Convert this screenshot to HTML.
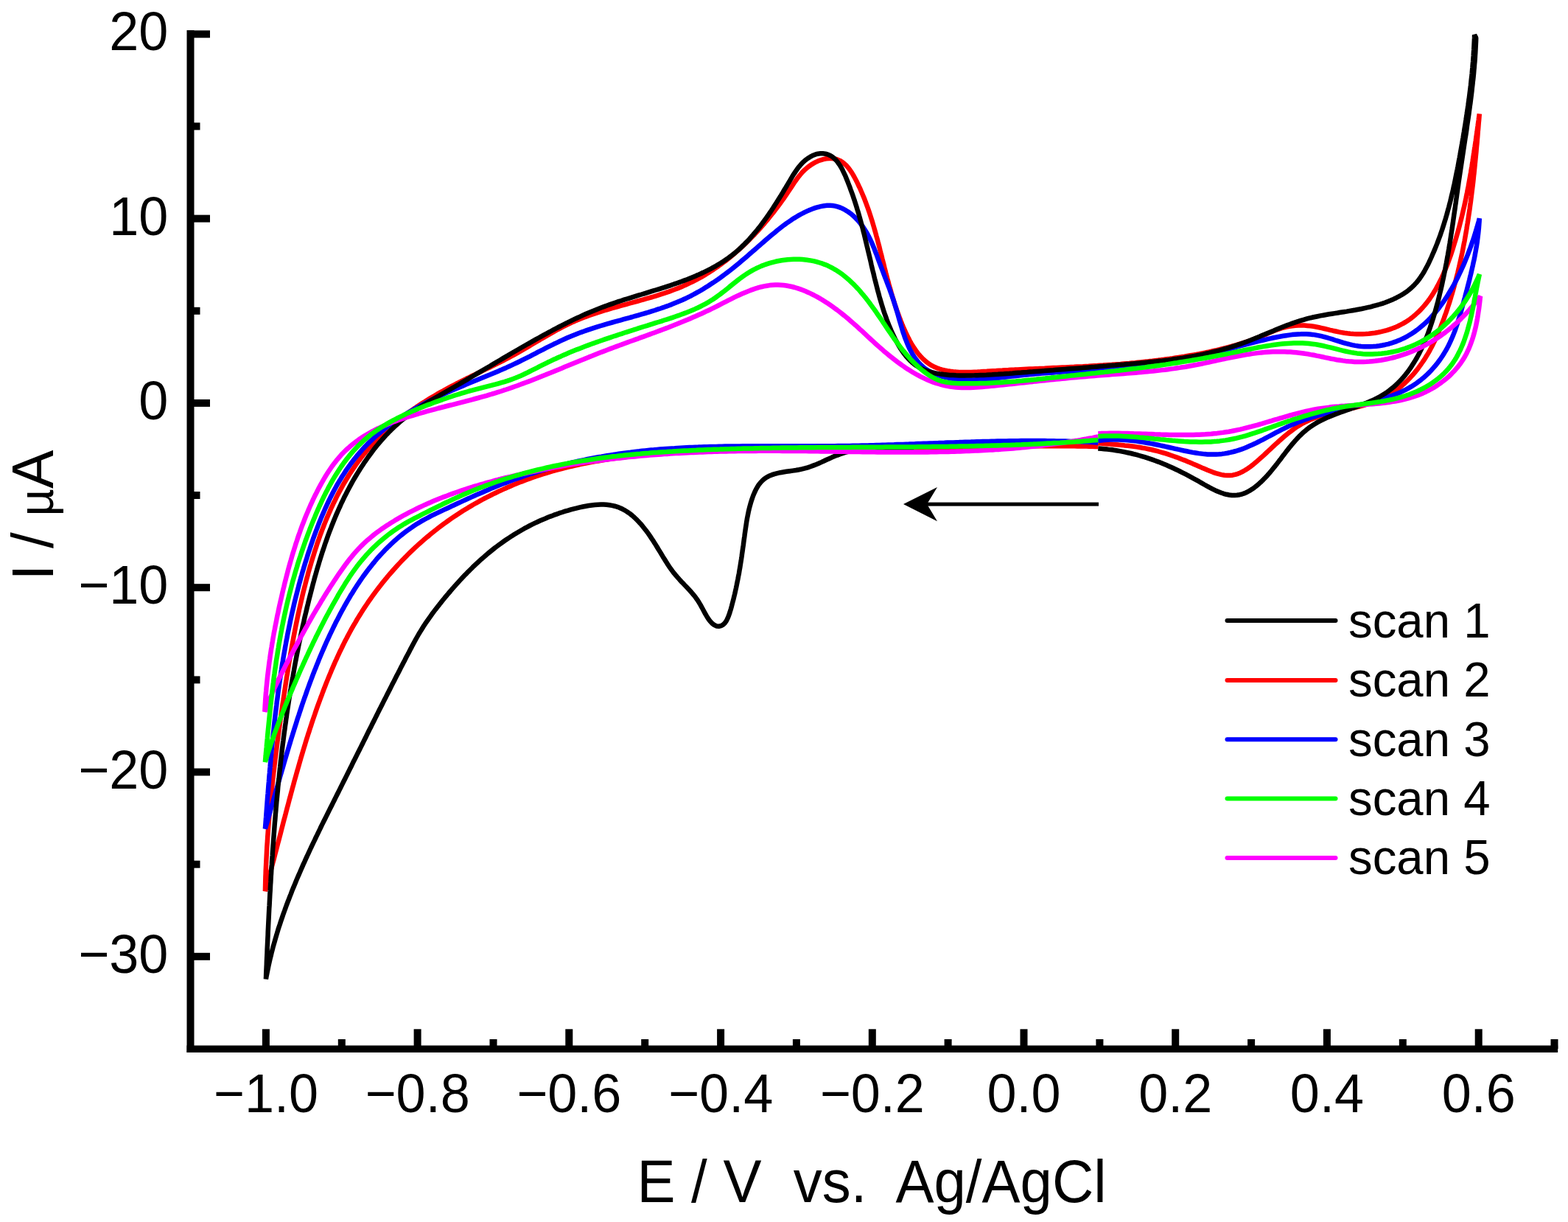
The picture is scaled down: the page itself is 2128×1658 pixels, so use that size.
<!DOCTYPE html>
<html><head><meta charset="utf-8"><title>Cyclic voltammogram</title>
<style>
html,body{margin:0;padding:0;background:#fff;}
body{width:2128px;height:1658px;overflow:hidden;}
svg{display:block;}
text{font-family:"Liberation Sans",Arial,sans-serif;fill:#000;}
.tl{font-size:72px;}
.ti{font-size:78px;}
.ty{font-size:80px;}
.lg{font-size:66px;}
.mu{font-size:66px;}
</style></head><body>
<svg xmlns="http://www.w3.org/2000/svg" width="2128" height="1658" viewBox="0 0 2128 1658">
<rect width="2128" height="1658" fill="#fff"/>
<rect x="253.5" y="41" width="10" height="1387" fill="#000"/>
<rect x="253.5" y="1418.5" width="1860.7" height="9.5" fill="#000"/>
<rect x="258" y="41.3" width="27.0" height="10" fill="#000"/>
<text transform="translate(228.4,68.3) scale(1,1.03)" text-anchor="end" class="tl">20</text>
<rect x="258" y="166.4" width="13.5" height="10" fill="#000"/>
<rect x="258" y="291.6" width="27.0" height="10" fill="#000"/>
<text transform="translate(228.4,318.6) scale(1,1.03)" text-anchor="end" class="tl">10</text>
<rect x="258" y="416.8" width="13.5" height="10" fill="#000"/>
<rect x="258" y="541.9" width="27.0" height="10" fill="#000"/>
<text transform="translate(228.4,568.9) scale(1,1.03)" text-anchor="end" class="tl">0</text>
<rect x="258" y="667.0" width="13.5" height="10" fill="#000"/>
<rect x="258" y="792.2" width="27.0" height="10" fill="#000"/>
<text transform="translate(228.4,819.2) scale(1,1.03)" text-anchor="end" class="tl">−10</text>
<rect x="258" y="917.4" width="13.5" height="10" fill="#000"/>
<rect x="258" y="1042.5" width="27.0" height="10" fill="#000"/>
<text transform="translate(228.4,1069.5) scale(1,1.03)" text-anchor="end" class="tl">−20</text>
<rect x="258" y="1167.7" width="13.5" height="10" fill="#000"/>
<rect x="258" y="1292.8" width="27.0" height="10" fill="#000"/>
<text transform="translate(228.4,1319.8) scale(1,1.03)" text-anchor="end" class="tl">−30</text>
<rect x="355.9" y="1396.3" width="10" height="26.7" fill="#000"/>
<text transform="translate(360.9,1509.3) scale(1,1.03)" text-anchor="middle" class="tl">−1.0</text>
<rect x="458.8" y="1410.0" width="10" height="13.0" fill="#000"/>
<rect x="561.6" y="1396.3" width="10" height="26.7" fill="#000"/>
<text transform="translate(566.6,1509.3) scale(1,1.03)" text-anchor="middle" class="tl">−0.8</text>
<rect x="664.5" y="1410.0" width="10" height="13.0" fill="#000"/>
<rect x="767.3" y="1396.3" width="10" height="26.7" fill="#000"/>
<text transform="translate(772.3,1509.3) scale(1,1.03)" text-anchor="middle" class="tl">−0.6</text>
<rect x="870.2" y="1410.0" width="10" height="13.0" fill="#000"/>
<rect x="973.1" y="1396.3" width="10" height="26.7" fill="#000"/>
<text transform="translate(978.1,1509.3) scale(1,1.03)" text-anchor="middle" class="tl">−0.4</text>
<rect x="1075.9" y="1410.0" width="10" height="13.0" fill="#000"/>
<rect x="1178.8" y="1396.3" width="10" height="26.7" fill="#000"/>
<text transform="translate(1183.8,1509.3) scale(1,1.03)" text-anchor="middle" class="tl">−0.2</text>
<rect x="1281.6" y="1410.0" width="10" height="13.0" fill="#000"/>
<rect x="1384.5" y="1396.3" width="10" height="26.7" fill="#000"/>
<text transform="translate(1389.5,1509.3) scale(1,1.03)" text-anchor="middle" class="tl">0.0</text>
<rect x="1487.4" y="1410.0" width="10" height="13.0" fill="#000"/>
<rect x="1590.2" y="1396.3" width="10" height="26.7" fill="#000"/>
<text transform="translate(1595.2,1509.3) scale(1,1.03)" text-anchor="middle" class="tl">0.2</text>
<rect x="1693.1" y="1410.0" width="10" height="13.0" fill="#000"/>
<rect x="1795.9" y="1396.3" width="10" height="26.7" fill="#000"/>
<text transform="translate(1800.9,1509.3) scale(1,1.03)" text-anchor="middle" class="tl">0.4</text>
<rect x="1898.8" y="1410.0" width="10" height="13.0" fill="#000"/>
<rect x="2001.7" y="1396.3" width="10" height="26.7" fill="#000"/>
<text transform="translate(2006.7,1509.3) scale(1,1.03)" text-anchor="middle" class="tl">0.6</text>
<rect x="2104.5" y="1410.0" width="10" height="13.0" fill="#000"/>
<text transform="translate(864.4,1631) scale(1,1.04)" class="ti" xml:space="preserve">E / V  vs.  Ag/AgCl</text>
<text transform="translate(71.7,787.5) rotate(-90) scale(0.98,1)" class="ty">I / <tspan class="mu">µ</tspan>A</text>
<path d="M1490.3,606.0 L1486.3,605.9 L1482.3,605.8 L1478.3,605.7 L1474.2,605.6 L1470.2,605.5 L1466.2,605.5 L1462.2,605.4 L1458.2,605.3 L1454.2,605.3 L1450.1,605.3 L1446.1,605.2 L1442.1,605.2 L1438.1,605.2 L1434.1,605.2 L1430.0,605.2 L1426.0,605.2 L1422.0,605.2 L1418.0,605.2 L1414.0,605.2 L1409.9,605.2 L1405.9,605.3 L1401.9,605.3 L1397.9,605.3 L1393.9,605.4 L1389.8,605.4 L1385.8,605.5 L1381.8,605.5 L1377.8,605.6 L1373.7,605.6 L1369.7,605.7 L1365.7,605.8 L1361.7,605.8 L1357.7,605.9 L1353.6,605.9 L1349.6,606.0 L1345.6,606.1 L1341.6,606.1 L1337.6,606.2 L1333.5,606.3 L1329.5,606.4 L1325.5,606.4 L1321.5,606.5 L1317.5,606.6 L1313.4,606.6 L1309.4,606.7 L1305.4,606.7 L1301.4,606.8 L1297.4,606.9 L1293.3,606.9 L1289.3,607.0 L1285.3,607.0 L1281.3,607.1 L1277.3,607.1 L1273.3,607.2 L1269.3,607.2 L1265.2,607.2 L1261.2,607.3 L1257.2,607.3 L1253.2,607.4 L1249.2,607.4 L1245.2,607.4 L1241.2,607.5 L1237.1,607.5 L1233.1,607.5 L1229.1,607.6 L1225.1,607.6 L1221.1,607.6 L1217.1,607.7 L1213.1,607.7 L1209.1,607.7 L1205.0,607.7 L1201.0,607.8 L1197.0,607.8 L1193.0,607.8 L1189.0,607.8 L1185.0,607.9 L1181.0,607.9 L1177.0,607.9 L1172.9,607.9 L1168.9,608.0 L1164.9,608.0 L1160.9,608.0 L1156.9,608.1 L1152.9,608.1 L1148.9,608.1 L1144.9,608.2 L1140.9,608.2 L1136.8,608.2 L1132.8,608.3 L1128.8,608.3 L1124.8,608.3 L1120.8,608.4 L1116.8,608.4 L1112.8,608.4 L1108.7,608.5 L1104.7,608.5 L1100.7,608.6 L1096.7,608.6 L1092.7,608.7 L1088.7,608.7 L1084.7,608.8 L1080.6,608.8 L1076.6,608.9 L1072.6,609.0 L1068.6,609.0 L1064.6,609.1 L1060.6,609.2 L1056.5,609.2 L1052.5,609.3 L1048.5,609.4 L1044.5,609.5 L1040.5,609.5 L1036.5,609.6 L1032.4,609.7 L1028.4,609.8 L1024.4,609.9 L1020.4,610.0 L1016.4,610.1 L1012.3,610.2 L1008.3,610.3 L1004.3,610.4 L1000.3,610.6 L996.2,610.7 L992.2,610.8 L988.2,610.9 L984.2,611.1 L980.1,611.2 L976.1,611.4 L972.1,611.5 L968.1,611.7 L964.0,611.8 L960.0,612.0 L956.0,612.1 L951.9,612.3 L947.9,612.5 L943.9,612.7 L939.8,612.9 L935.8,613.1 L931.8,613.3 L927.8,613.5 L923.7,613.7 L919.7,613.9 L915.7,614.2 L911.6,614.4 L907.6,614.7 L903.6,615.0 L899.6,615.3 L895.5,615.5 L891.5,615.9 L887.5,616.2 L883.5,616.5 L879.5,616.9 L875.5,617.2 L871.5,617.6 L867.4,618.0 L863.4,618.4 L859.4,618.8 L855.4,619.3 L851.5,619.8 L847.5,620.2 L843.5,620.7 L839.5,621.3 L835.5,621.8 L831.5,622.4 L827.6,622.9 L823.6,623.5 L819.6,624.1 L815.7,624.8 L811.7,625.5 L807.8,626.1 L803.8,626.9 L799.9,627.6 L796.0,628.3 L792.1,629.1 L788.1,629.9 L784.2,630.8 L780.3,631.6 L776.4,632.5 L772.5,633.4 L768.6,634.4 L764.7,635.4 L760.9,636.4 L757.0,637.4 L753.1,638.4 L749.3,639.5 L745.4,640.7 L741.6,641.8 L737.8,643.0 L734.0,644.2 L730.1,645.5 L726.3,646.7 L722.5,648.0 L718.8,649.4 L715.0,650.8 L711.2,652.2 L707.5,653.6 L703.7,655.1 L700.0,656.6 L696.3,658.1 L692.6,659.7 L688.9,661.3 L685.2,662.9 L681.5,664.6 L677.9,666.2 L674.2,668.0 L670.6,669.7 L667.0,671.5 L663.4,673.3 L659.8,675.2 L656.2,677.0 L652.7,678.9 L649.2,680.9 L645.7,682.8 L642.2,684.8 L638.7,686.9 L635.2,688.9 L631.8,691.0 L628.4,693.1 L625.0,695.3 L621.6,697.5 L618.2,699.7 L614.9,701.9 L611.6,704.2 L608.3,706.5 L605.0,708.9 L601.8,711.2 L598.5,713.6 L595.3,716.0 L592.2,718.5 L589.0,721.0 L585.9,723.5 L582.8,726.1 L579.7,728.6 L576.6,731.2 L573.6,733.9 L570.6,736.5 L567.6,739.2 L564.6,741.9 L561.7,744.6 L558.8,747.4 L555.9,750.2 L553.0,753.0 L550.2,755.9 L547.4,758.7 L544.6,761.6 L541.8,764.6 L539.1,767.5 L536.4,770.5 L533.7,773.5 L531.1,776.5 L528.4,779.5 L525.8,782.6 L523.3,785.7 L520.7,788.8 L518.2,791.9 L515.8,795.0 L513.3,798.2 L510.9,801.4 L508.5,804.6 L506.1,807.9 L503.8,811.1 L501.5,814.4 L499.2,817.7 L497.0,821.0 L494.7,824.4 L492.5,827.7 L490.4,831.1 L488.3,834.5 L486.2,837.9 L484.1,841.3 L482.1,844.8 L480.1,848.2 L478.1,851.7 L476.1,855.2 L474.2,858.7 L472.3,862.2 L470.5,865.8 L468.6,869.3 L466.8,872.9 L465.0,876.5 L463.3,880.1 L461.5,883.7 L459.8,887.3 L458.1,891.0 L456.5,894.6 L454.8,898.2 L453.2,901.9 L451.6,905.6 L450.0,909.3 L448.5,913.0 L446.9,916.7 L445.4,920.4 L443.9,924.1 L442.4,927.8 L441.0,931.5 L439.5,935.3 L438.1,939.0 L436.7,942.8 L435.3,946.5 L433.9,950.3 L432.5,954.1 L431.1,957.9 L429.8,961.6 L428.5,965.4 L427.2,969.2 L425.9,973.0 L424.6,976.8 L423.3,980.6 L422.1,984.4 L420.8,988.3 L419.6,992.1 L418.3,995.9 L417.1,999.8 L415.9,1003.6 L414.7,1007.4 L413.6,1011.3 L412.4,1015.1 L411.2,1019.0 L410.1,1022.8 L408.9,1026.7 L407.8,1030.6 L406.7,1034.4 L405.6,1038.3 L404.5,1042.2 L403.4,1046.0 L402.3,1049.9 L401.2,1053.8 L400.1,1057.7 L399.0,1061.6 L398.0,1065.4 L396.9,1069.3 L395.9,1073.2 L394.8,1077.1 L393.8,1081.0 L392.7,1084.9 L391.7,1088.8 L390.7,1092.7 L389.6,1096.6 L388.6,1100.5 L387.6,1104.4 L386.6,1108.2 L385.5,1112.1 L384.5,1116.0 L383.5,1119.9 L382.5,1123.8 L381.5,1127.7 L380.5,1131.6 L379.5,1135.5 L378.5,1139.4 L377.4,1143.3 L376.4,1147.2 L375.4,1151.1 L374.4,1154.9 L373.4,1158.8 L372.4,1162.7 L371.4,1166.6 L370.3,1170.5 L369.3,1174.3 L368.3,1178.2 L367.2,1182.1 L366.2,1186.0 L365.2,1189.8 L364.1,1193.7 L363.1,1197.5 L362.0,1201.4 L361.0,1205.3 L359.9,1209.1 L360.0,1205.1 L360.1,1201.1 L360.2,1197.1 L360.3,1193.1 L360.4,1189.1 L360.6,1185.1 L360.7,1181.1 L360.9,1177.1 L361.1,1173.1 L361.3,1169.1 L361.5,1165.1 L361.7,1161.1 L361.9,1157.1 L362.1,1153.1 L362.3,1149.1 L362.6,1145.1 L362.9,1141.1 L363.1,1137.1 L363.4,1133.1 L363.7,1129.1 L364.0,1125.1 L364.3,1121.1 L364.6,1117.1 L364.9,1113.1 L365.3,1109.1 L365.6,1105.1 L366.0,1101.1 L366.3,1097.1 L366.7,1093.1 L367.1,1089.1 L367.4,1085.1 L367.8,1081.1 L368.2,1077.2 L368.6,1073.2 L369.1,1069.2 L369.5,1065.2 L369.9,1061.2 L370.3,1057.2 L370.8,1053.2 L371.2,1049.2 L371.7,1045.2 L372.2,1041.3 L372.6,1037.3 L373.1,1033.3 L373.6,1029.3 L374.1,1025.3 L374.6,1021.4 L375.1,1017.4 L375.6,1013.4 L376.1,1009.4 L376.6,1005.4 L377.2,1001.5 L377.7,997.5 L378.2,993.5 L378.8,989.5 L379.3,985.6 L379.9,981.6 L380.4,977.6 L381.0,973.7 L381.5,969.7 L382.1,965.7 L382.7,961.8 L383.2,957.8 L383.8,953.8 L384.4,949.9 L385.0,945.9 L385.6,942.0 L386.2,938.0 L386.8,934.1 L387.4,930.1 L388.0,926.1 L388.6,922.2 L389.2,918.2 L389.9,914.3 L390.5,910.4 L391.1,906.4 L391.8,902.5 L392.4,898.5 L393.1,894.6 L393.8,890.6 L394.4,886.7 L395.1,882.8 L395.8,878.8 L396.5,874.9 L397.3,871.0 L398.0,867.0 L398.7,863.1 L399.5,859.2 L400.2,855.3 L401.0,851.3 L401.8,847.4 L402.6,843.5 L403.4,839.6 L404.2,835.7 L405.1,831.8 L405.9,827.9 L406.8,823.9 L407.7,820.0 L408.6,816.1 L409.5,812.2 L410.4,808.3 L411.3,804.4 L412.3,800.5 L413.3,796.6 L414.3,792.8 L415.3,788.9 L416.3,785.0 L417.4,781.1 L418.4,777.2 L419.5,773.3 L420.6,769.5 L421.8,765.6 L422.9,761.7 L424.1,757.8 L425.3,754.0 L426.5,750.1 L427.7,746.3 L429.0,742.5 L430.2,738.6 L431.5,734.8 L432.9,731.0 L434.2,727.2 L435.6,723.4 L437.0,719.6 L438.5,715.9 L439.9,712.1 L441.4,708.4 L442.9,704.6 L444.5,700.9 L446.1,697.2 L447.7,693.6 L449.3,689.9 L451.0,686.3 L452.7,682.7 L454.5,679.1 L456.2,675.5 L458.0,671.9 L459.9,668.4 L461.8,664.9 L463.7,661.4 L465.6,657.9 L467.6,654.5 L469.7,651.0 L471.7,647.7 L473.8,644.3 L476.0,641.0 L478.2,637.6 L480.4,634.4 L482.6,631.1 L485.0,627.9 L487.3,624.7 L489.7,621.5 L492.1,618.4 L494.6,615.3 L497.1,612.3 L499.7,609.2 L502.3,606.2 L505.0,603.3 L507.7,600.4 L510.4,597.5 L513.2,594.6 L516.1,591.8 L518.9,589.0 L521.9,586.3 L524.8,583.6 L527.8,580.9 L530.9,578.3 L533.9,575.7 L537.0,573.1 L540.2,570.6 L543.3,568.1 L546.5,565.6 L549.8,563.2 L553.0,560.8 L556.3,558.4 L559.6,556.1 L563.0,553.8 L566.3,551.5 L569.7,549.3 L573.1,547.0 L576.5,544.9 L579.9,542.7 L583.4,540.6 L586.9,538.5 L590.4,536.5 L593.8,534.4 L597.4,532.4 L600.9,530.5 L604.4,528.5 L607.9,526.6 L611.5,524.7 L615.0,522.9 L618.6,521.0 L622.2,519.2 L625.7,517.4 L629.3,515.6 L632.9,513.8 L636.5,512.1 L640.0,510.3 L643.6,508.6 L647.2,506.9 L650.8,505.1 L654.3,503.4 L657.9,501.6 L661.5,499.9 L665.1,498.2 L668.6,496.4 L672.2,494.6 L675.7,492.9 L679.3,491.1 L682.8,489.3 L686.4,487.4 L689.9,485.6 L693.4,483.7 L696.9,481.8 L700.4,479.9 L703.9,477.9 L707.4,475.9 L710.8,473.9 L714.3,471.9 L717.7,469.9 L721.2,467.8 L724.6,465.8 L728.1,463.7 L731.6,461.7 L735.0,459.6 L738.5,457.6 L741.9,455.6 L745.4,453.6 L748.9,451.6 L752.4,449.6 L755.9,447.7 L759.5,445.8 L763.0,443.9 L766.6,442.1 L770.2,440.3 L773.8,438.6 L777.4,436.9 L781.1,435.3 L784.8,433.8 L788.5,432.3 L792.3,430.8 L796.0,429.4 L799.8,428.0 L803.6,426.7 L807.4,425.4 L811.2,424.1 L815.1,422.9 L818.9,421.7 L822.8,420.5 L826.7,419.4 L830.6,418.2 L834.5,417.1 L838.4,416.0 L842.3,414.9 L846.2,413.9 L850.1,412.8 L854.0,411.7 L857.9,410.7 L861.8,409.6 L865.7,408.5 L869.6,407.4 L873.5,406.3 L877.4,405.2 L881.3,404.1 L885.2,403.0 L889.0,401.8 L892.9,400.6 L896.7,399.4 L900.5,398.2 L904.3,396.9 L908.1,395.6 L911.8,394.2 L915.6,392.8 L919.3,391.4 L922.9,389.9 L926.6,388.4 L930.2,386.8 L933.8,385.1 L937.4,383.4 L941.0,381.7 L944.5,379.9 L948.0,378.0 L951.4,376.1 L954.8,374.1 L958.2,372.1 L961.6,370.0 L965.0,367.8 L968.3,365.7 L971.6,363.4 L974.8,361.2 L978.0,358.9 L981.2,356.5 L984.4,354.1 L987.5,351.6 L990.6,349.1 L993.7,346.6 L996.8,344.0 L999.8,341.4 L1002.8,338.8 L1005.7,336.1 L1008.7,333.3 L1011.6,330.6 L1014.4,327.8 L1017.3,325.0 L1020.1,322.1 L1022.9,319.2 L1025.6,316.3 L1028.4,313.3 L1031.1,310.3 L1033.7,307.3 L1036.4,304.3 L1039.0,301.2 L1041.6,298.1 L1044.1,295.0 L1046.7,291.8 L1049.2,288.7 L1051.6,285.5 L1054.1,282.3 L1056.5,279.1 L1058.9,275.8 L1061.2,272.6 L1063.6,269.3 L1065.9,266.0 L1068.1,262.7 L1070.4,259.3 L1072.6,256.0 L1074.8,252.7 L1077.0,249.3 L1079.2,246.0 L1081.5,242.8 L1083.9,239.6 L1086.5,236.5 L1089.1,233.4 L1092.0,230.6 L1095.1,227.8 L1098.5,225.2 L1102.0,222.8 L1105.7,220.7 L1109.5,218.8 L1113.4,217.3 L1117.4,216.1 L1121.3,215.3 L1125.3,214.9 L1129.1,215.0 L1132.8,215.5 L1136.4,216.5 L1139.8,217.9 L1143.0,219.8 L1145.9,222.1 L1148.7,224.7 L1151.2,227.6 L1153.6,230.7 L1155.9,234.1 L1158.0,237.6 L1160.0,241.3 L1162.0,245.0 L1163.8,248.7 L1165.6,252.5 L1167.4,256.2 L1169.0,260.0 L1170.6,263.7 L1172.2,267.5 L1173.7,271.3 L1175.1,275.0 L1176.5,278.8 L1177.9,282.6 L1179.2,286.4 L1180.5,290.2 L1181.7,294.0 L1182.9,297.8 L1184.1,301.6 L1185.2,305.4 L1186.3,309.2 L1187.4,313.0 L1188.5,316.8 L1189.5,320.6 L1190.6,324.4 L1191.6,328.3 L1192.6,332.1 L1193.6,335.9 L1194.5,339.7 L1195.5,343.6 L1196.5,347.4 L1197.4,351.3 L1198.4,355.1 L1199.4,358.9 L1200.3,362.8 L1201.3,366.6 L1202.3,370.5 L1203.3,374.3 L1204.3,378.1 L1205.4,382.0 L1206.4,385.8 L1207.5,389.7 L1208.6,393.5 L1209.7,397.4 L1210.8,401.2 L1212.0,405.1 L1213.2,408.9 L1214.4,412.8 L1215.7,416.6 L1217.0,420.5 L1218.4,424.3 L1219.8,428.2 L1221.2,432.0 L1222.7,435.9 L1224.2,439.7 L1225.8,443.6 L1227.5,447.4 L1229.2,451.2 L1231.0,454.9 L1232.8,458.6 L1234.7,462.3 L1236.7,465.8 L1238.8,469.3 L1241.0,472.7 L1243.2,475.9 L1245.5,479.0 L1248.0,482.0 L1250.5,484.8 L1253.2,487.5 L1255.9,489.9 L1258.8,492.2 L1261.8,494.3 L1264.9,496.2 L1268.2,497.8 L1271.5,499.2 L1275.0,500.5 L1278.5,501.6 L1282.2,502.5 L1285.9,503.2 L1289.7,503.8 L1293.6,504.3 L1297.5,504.6 L1301.6,504.9 L1305.6,505.0 L1309.7,505.0 L1313.9,505.0 L1318.0,504.9 L1322.2,504.7 L1326.5,504.5 L1330.7,504.3 L1334.9,504.0 L1339.2,503.8 L1343.4,503.5 L1347.6,503.2 L1351.8,503.0 L1356.0,502.7 L1360.2,502.5 L1364.3,502.3 L1368.5,502.1 L1372.6,501.8 L1376.8,501.6 L1380.9,501.4 L1385.0,501.2 L1389.1,501.0 L1393.2,500.8 L1397.3,500.6 L1401.4,500.4 L1405.4,500.2 L1409.5,500.1 L1413.5,499.9 L1417.6,499.7 L1421.6,499.5 L1425.6,499.3 L1429.6,499.1 L1433.6,499.0 L1437.6,498.8 L1441.6,498.6 L1445.6,498.4 L1449.6,498.2 L1453.6,498.0 L1457.6,497.8 L1461.5,497.6 L1465.5,497.4 L1469.5,497.2 L1473.4,497.0 L1477.4,496.8 L1481.3,496.5 L1485.2,496.3 L1489.2,496.1 L1493.1,495.8 L1497.1,495.6 L1501.0,495.3 L1504.9,495.0 L1508.9,494.8 L1512.8,494.5 L1516.7,494.2 L1520.6,493.9 L1524.6,493.5 L1528.5,493.2 L1532.4,492.9 L1536.3,492.5 L1540.3,492.2 L1544.2,491.8 L1548.1,491.4 L1552.0,491.0 L1556.0,490.6 L1559.9,490.1 L1563.8,489.7 L1567.8,489.2 L1571.7,488.8 L1575.7,488.3 L1579.6,487.8 L1583.6,487.2 L1587.5,486.7 L1591.5,486.1 L1595.4,485.5 L1599.4,484.9 L1603.4,484.3 L1607.3,483.7 L1611.3,483.0 L1615.3,482.3 L1619.3,481.6 L1623.3,480.9 L1627.2,480.2 L1631.2,479.4 L1635.2,478.6 L1639.2,477.8 L1643.1,476.9 L1647.1,476.0 L1651.1,475.1 L1655.0,474.2 L1658.9,473.2 L1662.9,472.2 L1666.8,471.2 L1670.7,470.1 L1674.6,469.0 L1678.4,467.9 L1682.3,466.7 L1686.1,465.5 L1690.0,464.3 L1693.8,463.0 L1697.5,461.7 L1701.3,460.3 L1705.0,458.9 L1708.8,457.5 L1712.4,456.0 L1716.1,454.5 L1719.8,452.9 L1723.4,451.3 L1727.0,449.8 L1730.7,448.3 L1734.4,446.9 L1738.2,445.6 L1742.0,444.5 L1745.9,443.5 L1749.9,442.7 L1754.0,442.2 L1758.0,441.8 L1762.2,441.5 L1766.2,441.5 L1770.3,441.6 L1774.3,441.9 L1778.3,442.3 L1782.2,442.8 L1786.1,443.5 L1790.0,444.3 L1793.8,445.1 L1797.6,446.0 L1801.4,446.9 L1805.2,447.8 L1809.1,448.7 L1812.9,449.5 L1816.8,450.4 L1820.7,451.1 L1824.6,451.8 L1828.6,452.3 L1832.7,452.7 L1836.8,453.0 L1840.9,453.2 L1845.1,453.3 L1849.2,453.2 L1853.4,453.0 L1857.6,452.7 L1861.7,452.2 L1865.9,451.7 L1870.0,451.0 L1874.1,450.1 L1878.1,449.2 L1882.1,448.1 L1886.0,446.9 L1889.8,445.5 L1893.6,444.1 L1897.2,442.5 L1900.8,440.7 L1904.3,438.9 L1907.6,436.9 L1910.9,434.8 L1914.0,432.6 L1917.1,430.2 L1920.0,427.8 L1922.9,425.2 L1925.7,422.6 L1928.4,419.9 L1931.0,417.0 L1933.5,414.1 L1936.0,411.1 L1938.4,408.0 L1940.7,404.8 L1942.9,401.5 L1945.0,398.2 L1947.1,394.8 L1949.1,391.4 L1951.0,387.9 L1952.9,384.3 L1954.7,380.7 L1956.5,377.1 L1958.2,373.4 L1959.8,369.6 L1961.4,365.8 L1963.0,362.0 L1964.5,358.2 L1965.9,354.4 L1967.3,350.5 L1968.7,346.6 L1970.0,342.7 L1971.3,338.8 L1972.5,334.9 L1973.7,330.9 L1974.9,327.0 L1976.1,323.1 L1977.2,319.2 L1978.3,315.3 L1979.4,311.5 L1980.4,307.6 L1981.4,303.7 L1982.4,299.8 L1983.4,295.9 L1984.3,292.1 L1985.2,288.2 L1986.1,284.3 L1987.0,280.5 L1987.9,276.6 L1988.7,272.7 L1989.5,268.9 L1990.3,265.0 L1991.1,261.1 L1991.8,257.3 L1992.6,253.4 L1993.3,249.5 L1994.0,245.6 L1994.7,241.8 L1995.4,237.9 L1996.1,234.0 L1996.7,230.1 L1997.4,226.2 L1998.0,222.3 L1998.6,218.4 L1999.2,214.4 L1999.8,210.5 L2000.4,206.6 L2001.0,202.6 L2001.6,198.7 L2002.2,194.7 L2002.8,190.7 L2003.3,186.8 L2003.9,182.8 L2004.5,178.8 L2005.0,174.8 L2005.6,170.7 L2006.1,166.7 L2006.7,162.6 L2007.2,158.6 L2007.8,154.5 L2007.5,158.4 L2007.2,162.4 L2006.8,166.3 L2006.5,170.3 L2006.2,174.3 L2005.8,178.3 L2005.5,182.2 L2005.2,186.2 L2004.8,190.2 L2004.5,194.2 L2004.1,198.2 L2003.7,202.2 L2003.4,206.2 L2003.0,210.2 L2002.6,214.2 L2002.2,218.3 L2001.8,222.3 L2001.4,226.3 L2001.0,230.3 L2000.6,234.3 L2000.1,238.4 L1999.7,242.4 L1999.3,246.4 L1998.8,250.5 L1998.3,254.5 L1997.8,258.5 L1997.3,262.5 L1996.8,266.6 L1996.3,270.6 L1995.8,274.6 L1995.2,278.7 L1994.7,282.7 L1994.1,286.7 L1993.5,290.7 L1992.9,294.7 L1992.3,298.8 L1991.7,302.8 L1991.0,306.8 L1990.4,310.8 L1989.7,314.8 L1989.0,318.8 L1988.3,322.8 L1987.6,326.8 L1986.8,330.7 L1986.0,334.7 L1985.3,338.7 L1984.5,342.6 L1983.6,346.6 L1982.8,350.6 L1981.9,354.5 L1981.0,358.4 L1980.1,362.4 L1979.2,366.3 L1978.3,370.2 L1977.3,374.1 L1976.3,378.0 L1975.3,381.9 L1974.2,385.8 L1973.2,389.7 L1972.1,393.5 L1971.0,397.4 L1969.8,401.2 L1968.7,405.1 L1967.5,408.9 L1966.3,412.7 L1965.0,416.5 L1963.8,420.3 L1962.5,424.1 L1961.1,427.8 L1959.8,431.6 L1958.4,435.3 L1957.0,439.0 L1955.6,442.7 L1954.1,446.4 L1952.6,450.1 L1951.0,453.8 L1949.4,457.4 L1947.7,461.0 L1946.0,464.6 L1944.2,468.2 L1942.4,471.8 L1940.5,475.3 L1938.5,478.8 L1936.4,482.3 L1934.3,485.7 L1932.1,489.2 L1929.8,492.5 L1927.4,495.9 L1925.0,499.2 L1922.5,502.4 L1919.9,505.6 L1917.2,508.8 L1914.4,511.8 L1911.6,514.8 L1908.7,517.7 L1905.7,520.5 L1902.7,523.2 L1899.6,525.9 L1896.4,528.4 L1893.1,530.8 L1889.8,533.1 L1886.4,535.2 L1883.0,537.2 L1879.4,539.1 L1875.9,540.9 L1872.2,542.5 L1868.5,544.1 L1864.8,545.5 L1861.0,546.8 L1857.2,548.0 L1853.3,549.2 L1849.5,550.3 L1845.6,551.3 L1841.6,552.3 L1837.7,553.3 L1833.7,554.2 L1829.8,555.1 L1825.8,556.0 L1821.8,556.8 L1817.8,557.7 L1813.9,558.6 L1810.0,559.5 L1806.0,560.5 L1802.1,561.5 L1798.3,562.6 L1794.4,563.7 L1790.6,564.9 L1786.9,566.1 L1783.2,567.5 L1779.5,568.9 L1775.9,570.5 L1772.3,572.2 L1768.8,574.0 L1765.4,575.9 L1762.1,578.0 L1758.7,580.1 L1755.5,582.4 L1752.3,584.8 L1749.1,587.2 L1746.0,589.7 L1742.9,592.3 L1739.8,595.0 L1736.7,597.7 L1733.7,600.5 L1730.7,603.2 L1727.6,606.0 L1724.6,608.9 L1721.6,611.7 L1718.5,614.5 L1715.5,617.3 L1712.4,620.1 L1709.3,622.9 L1706.2,625.6 L1703.1,628.3 L1699.9,630.9 L1696.7,633.3 L1693.4,635.7 L1690.1,637.8 L1686.7,639.8 L1683.3,641.4 L1679.9,642.8 L1676.3,643.9 L1672.8,644.7 L1669.1,645.0 L1665.4,645.0 L1661.7,644.7 L1657.9,644.1 L1654.1,643.2 L1650.3,642.1 L1646.4,640.8 L1642.5,639.3 L1638.6,637.8 L1634.7,636.1 L1630.8,634.4 L1627.0,632.7 L1623.1,631.0 L1619.3,629.4 L1615.5,627.7 L1611.7,626.2 L1607.9,624.6 L1604.1,623.2 L1600.4,621.7 L1596.6,620.3 L1592.8,619.0 L1589.1,617.7 L1585.3,616.4 L1581.5,615.2 L1577.7,614.1 L1573.9,613.0 L1570.1,611.9 L1566.3,611.0 L1562.4,610.0 L1558.5,609.2 L1554.6,608.4 L1550.6,607.7 L1546.7,607.0 L1542.7,606.4 L1538.6,605.8 L1534.6,605.3 L1530.6,604.8 L1526.5,604.4 L1522.4,603.9 L1518.4,603.6 L1514.3,603.2 L1510.3,602.9 L1506.2,602.5 L1502.2,602.2 L1498.2,601.9 L1494.2,601.6 L1490.3,601.3" fill="none" stroke="#ff0000" stroke-width="6.5" stroke-linejoin="bevel" stroke-linecap="butt"/>
<path d="M1490.3,600.5 L1486.3,600.3 L1482.2,600.0 L1478.2,599.8 L1474.2,599.6 L1470.1,599.5 L1466.1,599.3 L1462.1,599.1 L1458.1,599.0 L1454.0,598.9 L1450.0,598.7 L1446.0,598.6 L1442.0,598.5 L1437.9,598.4 L1433.9,598.4 L1429.9,598.3 L1425.9,598.2 L1421.9,598.2 L1417.8,598.1 L1413.8,598.1 L1409.8,598.1 L1405.8,598.1 L1401.8,598.1 L1397.8,598.1 L1393.8,598.1 L1389.7,598.1 L1385.7,598.1 L1381.7,598.2 L1377.7,598.2 L1373.7,598.3 L1369.7,598.3 L1365.7,598.4 L1361.7,598.5 L1357.7,598.5 L1353.7,598.6 L1349.6,598.7 L1345.6,598.8 L1341.6,598.9 L1337.6,599.0 L1333.6,599.1 L1329.6,599.2 L1325.6,599.3 L1321.6,599.4 L1317.6,599.6 L1313.6,599.7 L1309.6,599.8 L1305.6,599.9 L1301.6,600.1 L1297.6,600.2 L1293.6,600.4 L1289.6,600.5 L1285.6,600.6 L1281.6,600.8 L1277.5,600.9 L1273.5,601.1 L1269.5,601.2 L1265.5,601.4 L1261.5,601.5 L1257.5,601.7 L1253.5,601.8 L1249.5,602.0 L1245.5,602.1 L1241.5,602.3 L1237.5,602.4 L1233.5,602.6 L1229.5,602.7 L1225.5,602.9 L1221.4,603.0 L1217.4,603.1 L1213.4,603.3 L1209.4,603.4 L1205.4,603.5 L1201.4,603.7 L1197.4,603.8 L1193.4,603.9 L1189.3,604.0 L1185.3,604.2 L1181.3,604.3 L1177.3,604.4 L1173.3,604.5 L1169.3,604.6 L1165.2,604.7 L1161.2,604.7 L1157.2,604.8 L1153.2,604.9 L1149.1,605.0 L1145.1,605.0 L1141.1,605.1 L1137.1,605.1 L1133.0,605.2 L1129.0,605.2 L1125.0,605.3 L1121.0,605.3 L1116.9,605.3 L1112.9,605.3 L1108.9,605.3 L1104.8,605.3 L1100.8,605.3 L1096.8,605.3 L1092.7,605.3 L1088.7,605.3 L1084.7,605.3 L1080.6,605.3 L1076.6,605.3 L1072.5,605.3 L1068.5,605.3 L1064.5,605.3 L1060.4,605.3 L1056.4,605.3 L1052.4,605.3 L1048.3,605.3 L1044.3,605.3 L1040.3,605.2 L1036.2,605.2 L1032.2,605.3 L1028.1,605.3 L1024.1,605.3 L1020.1,605.3 L1016.0,605.3 L1012.0,605.3 L1008.0,605.3 L1003.9,605.4 L999.9,605.4 L995.9,605.5 L991.8,605.5 L987.8,605.6 L983.8,605.6 L979.8,605.7 L975.7,605.8 L971.7,605.9 L967.7,606.0 L963.6,606.1 L959.6,606.2 L955.6,606.3 L951.6,606.4 L947.6,606.6 L943.5,606.7 L939.5,606.9 L935.5,607.1 L931.5,607.3 L927.5,607.5 L923.5,607.7 L919.5,607.9 L915.5,608.2 L911.4,608.4 L907.4,608.7 L903.4,609.0 L899.4,609.3 L895.4,609.6 L891.4,609.9 L887.4,610.3 L883.5,610.6 L879.5,611.0 L875.5,611.4 L871.5,611.8 L867.5,612.3 L863.5,612.7 L859.5,613.2 L855.6,613.7 L851.6,614.2 L847.6,614.7 L843.7,615.2 L839.7,615.8 L835.7,616.4 L831.8,617.0 L827.8,617.6 L823.9,618.2 L819.9,618.9 L816.0,619.6 L812.0,620.3 L808.1,621.0 L804.2,621.7 L800.2,622.5 L796.3,623.3 L792.4,624.1 L788.5,624.9 L784.6,625.7 L780.7,626.6 L776.8,627.5 L772.9,628.4 L769.0,629.3 L765.1,630.3 L761.2,631.3 L757.3,632.3 L753.4,633.3 L749.6,634.3 L745.7,635.4 L741.9,636.5 L738.0,637.6 L734.2,638.7 L730.3,639.9 L726.5,641.1 L722.7,642.3 L718.8,643.5 L715.0,644.7 L711.2,646.0 L707.4,647.3 L703.6,648.6 L699.8,650.0 L696.1,651.3 L692.3,652.7 L688.5,654.2 L684.8,655.6 L681.0,657.1 L677.3,658.6 L673.5,660.1 L669.8,661.6 L666.0,663.1 L662.3,664.7 L658.6,666.3 L654.9,667.9 L651.2,669.5 L647.5,671.1 L643.7,672.7 L640.0,674.4 L636.3,676.1 L632.6,677.7 L629.0,679.4 L625.3,681.1 L621.6,682.8 L617.9,684.5 L614.2,686.2 L610.5,688.0 L606.8,689.7 L603.1,691.4 L599.5,693.1 L595.8,694.9 L592.1,696.6 L588.5,698.4 L584.8,700.2 L581.3,702.1 L577.7,704.0 L574.2,705.9 L570.7,707.9 L567.3,710.0 L563.9,712.1 L560.6,714.3 L557.3,716.6 L554.1,718.9 L550.9,721.2 L547.7,723.6 L544.6,726.1 L541.6,728.6 L538.6,731.1 L535.6,733.7 L532.7,736.4 L529.8,739.1 L527.0,741.8 L524.2,744.6 L521.4,747.5 L518.7,750.4 L516.0,753.3 L513.3,756.2 L510.7,759.2 L508.2,762.3 L505.6,765.4 L503.2,768.5 L500.7,771.6 L498.3,774.8 L495.9,778.0 L493.5,781.2 L491.2,784.5 L488.9,787.8 L486.7,791.1 L484.4,794.5 L482.2,797.9 L480.1,801.3 L478.0,804.7 L475.8,808.1 L473.8,811.6 L471.7,815.1 L469.7,818.6 L467.7,822.1 L465.8,825.7 L463.8,829.2 L461.9,832.8 L460.0,836.4 L458.2,839.9 L456.3,843.5 L454.5,847.2 L452.7,850.8 L451.0,854.4 L449.2,858.1 L447.5,861.7 L445.8,865.4 L444.1,869.0 L442.4,872.7 L440.8,876.4 L439.2,880.1 L437.6,883.8 L436.0,887.5 L434.4,891.2 L432.9,894.9 L431.4,898.7 L429.9,902.4 L428.4,906.2 L426.9,909.9 L425.4,913.7 L424.0,917.4 L422.6,921.2 L421.2,924.9 L419.8,928.7 L418.4,932.5 L417.0,936.3 L415.7,940.1 L414.4,943.9 L413.0,947.7 L411.7,951.5 L410.4,955.3 L409.1,959.1 L407.9,962.9 L406.6,966.7 L405.4,970.5 L404.1,974.3 L402.9,978.1 L401.7,982.0 L400.5,985.8 L399.3,989.6 L398.1,993.4 L396.9,997.3 L395.7,1001.1 L394.5,1004.9 L393.4,1008.8 L392.2,1012.6 L391.1,1016.4 L389.9,1020.3 L388.8,1024.1 L387.6,1028.0 L386.5,1031.8 L385.4,1035.7 L384.3,1039.5 L383.2,1043.4 L382.1,1047.2 L380.9,1051.1 L379.8,1054.9 L378.7,1058.8 L377.6,1062.6 L376.5,1066.5 L375.4,1070.3 L374.3,1074.2 L373.2,1078.1 L372.1,1081.9 L371.0,1085.8 L369.9,1089.7 L368.8,1093.5 L367.7,1097.4 L366.6,1101.3 L365.5,1105.1 L364.4,1109.0 L363.3,1112.9 L362.2,1116.8 L361.0,1120.6 L359.9,1124.5 L360.2,1120.5 L360.5,1116.5 L360.8,1112.5 L361.1,1108.6 L361.4,1104.6 L361.7,1100.6 L362.0,1096.6 L362.3,1092.6 L362.6,1088.6 L362.9,1084.6 L363.2,1080.6 L363.6,1076.6 L363.9,1072.6 L364.2,1068.6 L364.5,1064.6 L364.9,1060.6 L365.2,1056.6 L365.5,1052.6 L365.9,1048.6 L366.2,1044.6 L366.6,1040.6 L366.9,1036.6 L367.3,1032.6 L367.6,1028.6 L368.0,1024.6 L368.4,1020.6 L368.7,1016.6 L369.1,1012.6 L369.5,1008.6 L369.9,1004.7 L370.3,1000.7 L370.7,996.7 L371.2,992.7 L371.6,988.7 L372.0,984.7 L372.4,980.7 L372.9,976.7 L373.3,972.7 L373.8,968.7 L374.3,964.7 L374.8,960.7 L375.3,956.8 L375.7,952.8 L376.3,948.8 L376.8,944.8 L377.3,940.8 L377.8,936.9 L378.4,932.9 L378.9,928.9 L379.5,924.9 L380.1,921.0 L380.7,917.0 L381.3,913.0 L381.9,909.1 L382.5,905.1 L383.1,901.1 L383.8,897.2 L384.4,893.2 L385.1,889.3 L385.8,885.3 L386.5,881.4 L387.2,877.4 L387.9,873.5 L388.6,869.5 L389.4,865.6 L390.1,861.7 L390.9,857.7 L391.7,853.8 L392.5,849.9 L393.3,846.0 L394.1,842.0 L395.0,838.1 L395.8,834.2 L396.7,830.3 L397.6,826.4 L398.5,822.5 L399.4,818.6 L400.3,814.7 L401.3,810.8 L402.3,806.9 L403.3,803.0 L404.3,799.1 L405.3,795.2 L406.3,791.4 L407.4,787.5 L408.4,783.6 L409.5,779.8 L410.6,775.9 L411.8,772.0 L412.9,768.2 L414.1,764.3 L415.3,760.5 L416.5,756.7 L417.7,752.8 L418.9,749.0 L420.2,745.2 L421.5,741.4 L422.8,737.5 L424.1,733.7 L425.4,729.9 L426.8,726.1 L428.2,722.3 L429.6,718.6 L431.1,714.8 L432.5,711.0 L434.0,707.3 L435.5,703.6 L437.1,699.8 L438.7,696.1 L440.3,692.5 L441.9,688.8 L443.6,685.1 L445.3,681.5 L447.0,677.9 L448.8,674.3 L450.6,670.8 L452.4,667.2 L454.3,663.7 L456.2,660.2 L458.2,656.7 L460.2,653.3 L462.3,649.9 L464.3,646.5 L466.5,643.2 L468.6,639.9 L470.8,636.6 L473.1,633.3 L475.4,630.1 L477.8,626.9 L480.2,623.8 L482.6,620.7 L485.1,617.6 L487.7,614.6 L490.3,611.6 L492.9,608.7 L495.6,605.8 L498.4,602.9 L501.2,600.1 L504.1,597.3 L507.0,594.6 L510.0,591.9 L513.0,589.3 L516.0,586.7 L519.2,584.2 L522.3,581.6 L525.5,579.2 L528.7,576.8 L532.0,574.4 L535.3,572.0 L538.7,569.7 L542.1,567.5 L545.5,565.2 L548.9,563.0 L552.4,560.9 L555.9,558.8 L559.4,556.7 L562.9,554.7 L566.5,552.7 L570.0,550.7 L573.6,548.8 L577.2,546.9 L580.8,545.0 L584.5,543.2 L588.1,541.4 L591.7,539.6 L595.4,537.9 L599.0,536.2 L602.7,534.5 L606.4,532.8 L610.0,531.2 L613.7,529.6 L617.4,528.0 L621.0,526.5 L624.7,524.9 L628.4,523.4 L632.1,521.8 L635.7,520.3 L639.4,518.8 L643.1,517.3 L646.8,515.8 L650.4,514.3 L654.1,512.8 L657.8,511.3 L661.4,509.8 L665.1,508.3 L668.7,506.8 L672.4,505.2 L676.0,503.7 L679.7,502.1 L683.3,500.5 L687.0,498.9 L690.6,497.3 L694.2,495.6 L697.8,493.9 L701.4,492.2 L705.0,490.5 L708.6,488.7 L712.2,486.9 L715.8,485.1 L719.4,483.3 L723.0,481.4 L726.6,479.6 L730.1,477.7 L733.7,475.9 L737.3,474.1 L740.9,472.2 L744.5,470.4 L748.1,468.6 L751.7,466.8 L755.4,465.1 L759.0,463.3 L762.7,461.6 L766.3,460.0 L770.0,458.3 L773.7,456.7 L777.4,455.2 L781.2,453.7 L784.9,452.2 L788.7,450.8 L792.5,449.5 L796.3,448.1 L800.1,446.8 L803.9,445.6 L807.7,444.4 L811.6,443.2 L815.4,442.0 L819.3,440.8 L823.2,439.7 L827.0,438.6 L830.9,437.5 L834.8,436.4 L838.7,435.3 L842.5,434.3 L846.4,433.2 L850.3,432.1 L854.2,431.1 L858.1,430.0 L861.9,428.9 L865.8,427.8 L869.7,426.7 L873.5,425.6 L877.4,424.5 L881.2,423.3 L885.0,422.1 L888.8,421.0 L892.6,419.7 L896.4,418.5 L900.2,417.2 L903.9,415.8 L907.7,414.5 L911.4,413.1 L915.1,411.6 L918.8,410.1 L922.4,408.6 L926.1,407.0 L929.7,405.3 L933.2,403.6 L936.8,401.9 L940.3,400.0 L943.8,398.1 L947.3,396.2 L950.8,394.2 L954.2,392.2 L957.6,390.1 L961.0,388.0 L964.3,385.8 L967.7,383.6 L971.0,381.4 L974.3,379.1 L977.5,376.8 L980.8,374.4 L984.0,372.0 L987.2,369.6 L990.3,367.2 L993.5,364.7 L996.6,362.2 L999.7,359.7 L1002.8,357.2 L1005.8,354.6 L1008.9,352.0 L1011.9,349.5 L1014.9,346.9 L1017.9,344.2 L1020.9,341.6 L1024.0,339.0 L1027.0,336.4 L1030.0,333.7 L1033.0,331.1 L1036.0,328.5 L1039.1,325.8 L1042.1,323.2 L1045.2,320.6 L1048.3,318.0 L1051.5,315.4 L1054.6,312.8 L1057.8,310.3 L1061.0,307.8 L1064.2,305.3 L1067.5,302.9 L1070.9,300.6 L1074.2,298.3 L1077.6,296.1 L1081.1,294.0 L1084.6,291.9 L1088.2,290.0 L1091.8,288.1 L1095.5,286.4 L1099.3,284.7 L1103.1,283.3 L1106.9,281.9 L1110.8,280.8 L1114.7,279.9 L1118.6,279.2 L1122.4,278.8 L1126.3,278.8 L1130.1,279.0 L1133.8,279.6 L1137.4,280.6 L1141.0,281.9 L1144.5,283.5 L1147.9,285.4 L1151.3,287.5 L1154.5,289.8 L1157.6,292.4 L1160.5,295.2 L1163.4,298.1 L1166.1,301.2 L1168.7,304.5 L1171.2,307.8 L1173.4,311.2 L1175.6,314.7 L1177.6,318.2 L1179.5,321.8 L1181.3,325.5 L1183.0,329.2 L1184.6,332.9 L1186.2,336.7 L1187.6,340.5 L1189.1,344.2 L1190.5,348.0 L1191.9,351.8 L1193.3,355.6 L1194.7,359.3 L1196.1,363.0 L1197.5,366.7 L1198.9,370.4 L1200.3,374.1 L1201.7,377.7 L1203.1,381.4 L1204.5,385.1 L1205.9,388.7 L1207.3,392.4 L1208.6,396.1 L1210.0,399.9 L1211.3,403.6 L1212.6,407.4 L1213.8,411.2 L1215.0,415.1 L1216.2,419.0 L1217.4,422.9 L1218.6,426.9 L1219.7,430.8 L1220.8,434.8 L1222.0,438.8 L1223.2,442.8 L1224.4,446.8 L1225.6,450.8 L1227.0,454.7 L1228.3,458.6 L1229.8,462.4 L1231.3,466.2 L1232.9,469.9 L1234.6,473.5 L1236.5,477.0 L1238.4,480.5 L1240.5,483.8 L1242.8,487.0 L1245.2,490.1 L1247.7,493.0 L1250.4,495.8 L1253.3,498.3 L1256.4,500.7 L1259.7,502.8 L1263.1,504.7 L1266.6,506.4 L1270.3,507.9 L1274.0,509.3 L1277.8,510.5 L1281.6,511.5 L1285.5,512.4 L1289.4,513.2 L1293.3,513.9 L1297.2,514.4 L1301.1,514.8 L1305.0,515.1 L1309.0,515.3 L1312.9,515.5 L1316.9,515.5 L1320.9,515.5 L1324.9,515.3 L1328.9,515.2 L1332.9,514.9 L1336.9,514.6 L1341.0,514.3 L1345.0,513.9 L1349.0,513.5 L1353.1,513.0 L1357.1,512.6 L1361.2,512.1 L1365.2,511.6 L1369.3,511.1 L1373.3,510.6 L1377.4,510.2 L1381.4,509.7 L1385.5,509.3 L1389.5,508.8 L1393.6,508.4 L1397.6,508.0 L1401.6,507.7 L1405.7,507.3 L1409.7,507.0 L1413.7,506.6 L1417.8,506.3 L1421.8,506.0 L1425.8,505.7 L1429.9,505.4 L1433.9,505.1 L1437.9,504.8 L1441.9,504.5 L1446.0,504.3 L1450.0,504.0 L1454.0,503.8 L1458.0,503.5 L1462.0,503.3 L1466.0,503.0 L1470.0,502.8 L1474.0,502.5 L1478.0,502.2 L1482.0,502.0 L1486.0,501.7 L1490.0,501.5 L1494.0,501.2 L1498.0,500.9 L1502.0,500.7 L1506.0,500.4 L1510.0,500.1 L1514.0,499.8 L1517.9,499.5 L1521.9,499.2 L1525.9,498.8 L1529.9,498.5 L1533.8,498.1 L1537.8,497.8 L1541.8,497.4 L1545.7,497.0 L1549.7,496.6 L1553.7,496.1 L1557.6,495.7 L1561.6,495.2 L1565.5,494.7 L1569.5,494.2 L1573.4,493.7 L1577.4,493.1 L1581.3,492.6 L1585.2,492.0 L1589.2,491.3 L1593.1,490.7 L1597.0,490.0 L1601.0,489.3 L1604.9,488.6 L1608.8,487.8 L1612.7,487.0 L1616.7,486.2 L1620.6,485.4 L1624.5,484.5 L1628.4,483.6 L1632.3,482.7 L1636.2,481.7 L1640.1,480.7 L1644.0,479.8 L1647.9,478.8 L1651.8,477.7 L1655.7,476.7 L1659.6,475.7 L1663.5,474.6 L1667.4,473.6 L1671.3,472.5 L1675.2,471.5 L1679.1,470.4 L1683.0,469.4 L1686.9,468.4 L1690.8,467.3 L1694.7,466.3 L1698.6,465.3 L1702.5,464.3 L1706.4,463.3 L1710.4,462.4 L1714.3,461.5 L1718.2,460.6 L1722.1,459.7 L1726.0,458.8 L1729.9,458.0 L1733.9,457.2 L1737.8,456.5 L1741.7,455.8 L1745.6,455.2 L1749.6,454.6 L1753.5,454.1 L1757.4,453.7 L1761.3,453.4 L1765.3,453.3 L1769.2,453.2 L1773.1,453.3 L1777.0,453.5 L1780.8,453.9 L1784.7,454.4 L1788.6,455.1 L1792.5,455.9 L1796.3,456.8 L1800.2,457.9 L1804.0,459.0 L1807.9,460.2 L1811.7,461.5 L1815.6,462.7 L1819.5,463.9 L1823.4,465.1 L1827.3,466.2 L1831.3,467.2 L1835.2,468.1 L1839.2,468.9 L1843.3,469.5 L1847.3,470.0 L1851.4,470.2 L1855.5,470.3 L1859.6,470.3 L1863.7,470.1 L1867.8,469.7 L1871.8,469.2 L1875.9,468.5 L1879.9,467.7 L1883.9,466.8 L1887.8,465.7 L1891.6,464.4 L1895.4,463.1 L1899.2,461.6 L1902.8,459.9 L1906.4,458.2 L1909.9,456.3 L1913.3,454.3 L1916.6,452.2 L1919.9,450.0 L1923.1,447.7 L1926.2,445.3 L1929.2,442.8 L1932.2,440.2 L1935.1,437.6 L1938.0,434.8 L1940.8,432.0 L1943.5,429.0 L1946.1,426.0 L1948.7,423.0 L1951.2,419.9 L1953.7,416.7 L1956.1,413.4 L1958.4,410.1 L1960.7,406.8 L1962.9,403.4 L1965.1,400.0 L1967.2,396.5 L1969.3,393.0 L1971.3,389.5 L1973.3,386.0 L1975.2,382.4 L1977.1,378.8 L1978.9,375.2 L1980.6,371.6 L1982.4,367.9 L1984.0,364.3 L1985.7,360.7 L1987.3,357.0 L1988.8,353.3 L1990.3,349.6 L1991.8,345.9 L1993.2,342.2 L1994.6,338.5 L1996.0,334.7 L1997.3,330.9 L1998.6,327.2 L1999.9,323.4 L2001.1,319.6 L2002.3,315.8 L2003.4,311.9 L2004.6,308.1 L2005.7,304.2 L2006.8,300.3 L2007.8,296.4 L2007.6,300.5 L2007.3,304.6 L2007.0,308.6 L2006.6,312.6 L2006.2,316.7 L2005.7,320.7 L2005.2,324.7 L2004.7,328.7 L2004.1,332.6 L2003.4,336.6 L2002.7,340.6 L2002.0,344.5 L2001.3,348.4 L2000.5,352.4 L1999.6,356.3 L1998.8,360.2 L1997.9,364.1 L1997.0,368.1 L1996.1,372.0 L1995.1,375.9 L1994.2,379.8 L1993.2,383.7 L1992.2,387.6 L1991.2,391.5 L1990.2,395.5 L1989.1,399.4 L1988.1,403.3 L1987.0,407.2 L1986.0,411.2 L1984.9,415.1 L1983.8,419.1 L1982.7,423.0 L1981.6,426.9 L1980.4,430.8 L1979.2,434.7 L1978.0,438.6 L1976.7,442.5 L1975.4,446.3 L1974.0,450.1 L1972.5,453.9 L1970.9,457.7 L1969.3,461.4 L1967.6,465.1 L1965.9,468.7 L1964.0,472.3 L1962.0,475.8 L1960.0,479.2 L1957.8,482.7 L1955.6,486.0 L1953.3,489.3 L1950.9,492.5 L1948.4,495.6 L1945.8,498.7 L1943.1,501.7 L1940.4,504.6 L1937.6,507.4 L1934.6,510.1 L1931.6,512.8 L1928.6,515.3 L1925.4,517.7 L1922.2,520.1 L1918.9,522.3 L1915.5,524.4 L1912.0,526.4 L1908.5,528.3 L1904.9,530.1 L1901.3,531.9 L1897.6,533.5 L1893.8,535.0 L1890.0,536.5 L1886.2,537.9 L1882.3,539.2 L1878.4,540.5 L1874.5,541.7 L1870.6,542.9 L1866.6,544.0 L1862.7,545.1 L1858.7,546.1 L1854.8,547.1 L1850.8,548.2 L1846.9,549.1 L1842.9,550.1 L1839.0,551.1 L1835.0,552.0 L1831.1,553.0 L1827.2,553.9 L1823.3,554.9 L1819.4,555.8 L1815.5,556.8 L1811.6,557.7 L1807.7,558.7 L1803.8,559.7 L1799.9,560.7 L1796.1,561.8 L1792.2,562.8 L1788.3,563.9 L1784.5,565.1 L1780.7,566.2 L1776.9,567.4 L1773.0,568.7 L1769.3,570.0 L1765.5,571.4 L1761.7,572.8 L1758.0,574.4 L1754.2,575.9 L1750.5,577.6 L1746.8,579.3 L1743.2,581.1 L1739.5,582.9 L1735.9,584.8 L1732.2,586.7 L1728.6,588.6 L1724.9,590.6 L1721.3,592.5 L1717.7,594.4 L1714.1,596.3 L1710.4,598.2 L1706.8,600.0 L1703.1,601.8 L1699.5,603.5 L1695.8,605.1 L1692.1,606.7 L1688.5,608.2 L1684.7,609.6 L1681.0,610.8 L1677.3,612.0 L1673.5,613.0 L1669.7,613.9 L1665.9,614.7 L1662.1,615.4 L1658.2,615.9 L1654.3,616.3 L1650.4,616.5 L1646.5,616.6 L1642.6,616.5 L1638.7,616.4 L1634.7,616.1 L1630.8,615.6 L1626.8,615.1 L1622.8,614.5 L1618.8,613.9 L1614.8,613.1 L1610.8,612.3 L1606.8,611.5 L1602.8,610.6 L1598.7,609.7 L1594.7,608.8 L1590.7,607.9 L1586.7,607.0 L1582.7,606.1 L1578.7,605.2 L1574.7,604.4 L1570.7,603.5 L1566.7,602.7 L1562.7,601.9 L1558.7,601.2 L1554.7,600.5 L1550.7,599.8 L1546.7,599.2 L1542.7,598.6 L1538.7,598.1 L1534.7,597.7 L1530.7,597.3 L1526.6,597.0 L1522.6,596.7 L1518.6,596.6 L1514.6,596.5 L1510.5,596.5 L1506.5,596.6 L1502.5,596.7 L1498.4,597.0 L1494.4,597.4 L1490.3,597.9" fill="none" stroke="#0000ff" stroke-width="6.5" stroke-linejoin="bevel" stroke-linecap="butt"/>
<path d="M1240.0,607.5 L1235.9,608.1 L1231.9,608.5 L1227.8,608.8 L1223.8,609.0 L1219.8,609.1 L1215.7,609.1 L1211.7,609.1 L1207.7,609.0 L1203.7,608.9 L1199.7,608.7 L1195.7,608.6 L1191.8,608.5 L1187.8,608.5 L1183.8,608.5 L1179.8,608.6 L1175.8,608.8 L1171.8,609.0 L1167.8,609.5 L1163.8,610.0 L1159.8,610.7 L1155.8,611.6 L1151.8,612.6 L1147.9,613.7 L1144.0,614.9 L1140.1,616.2 L1136.4,617.6 L1132.6,619.1 L1129.0,620.6 L1125.4,622.2 L1121.8,623.8 L1118.2,625.5 L1114.7,627.1 L1111.1,628.7 L1107.5,630.2 L1103.8,631.6 L1100.1,633.0 L1096.3,634.3 L1092.4,635.4 L1088.5,636.4 L1084.4,637.2 L1080.2,638.0 L1075.9,638.6 L1071.6,639.2 L1067.3,639.8 L1063.1,640.5 L1059.0,641.2 L1054.9,642.1 L1051.0,643.1 L1047.2,644.4 L1043.7,645.8 L1040.4,647.6 L1037.3,649.7 L1034.6,652.1 L1032.0,654.9 L1029.7,657.8 L1027.7,661.0 L1025.8,664.4 L1024.1,668.0 L1022.5,671.7 L1021.1,675.5 L1019.8,679.4 L1018.6,683.3 L1017.5,687.3 L1016.5,691.3 L1015.6,695.3 L1014.8,699.3 L1014.0,703.4 L1013.3,707.5 L1012.7,711.5 L1012.1,715.6 L1011.5,719.6 L1010.9,723.7 L1010.4,727.7 L1009.8,731.7 L1009.3,735.6 L1008.8,739.5 L1008.2,743.4 L1007.7,747.3 L1007.1,751.2 L1006.6,755.0 L1006.0,758.9 L1005.4,762.7 L1004.8,766.5 L1004.2,770.4 L1003.5,774.2 L1002.9,778.1 L1002.1,781.9 L1001.4,785.8 L1000.6,789.7 L999.8,793.7 L999.0,797.6 L998.1,801.6 L997.2,805.7 L996.2,809.7 L995.2,813.9 L994.1,818.0 L993.0,822.3 L991.8,826.6 L990.5,830.9 L989.1,835.0 L987.5,838.9 L985.8,842.4 L983.7,845.4 L981.3,847.7 L978.6,849.1 L975.6,849.7 L972.5,849.4 L969.5,848.1 L966.6,845.9 L963.9,843.1 L961.4,839.7 L959.0,835.9 L956.7,832.0 L954.6,828.0 L952.6,824.3 L950.6,820.7 L948.6,817.3 L946.5,814.0 L944.2,810.8 L941.7,807.6 L939.2,804.6 L936.5,801.5 L933.7,798.5 L930.9,795.6 L928.1,792.6 L925.3,789.7 L922.5,786.7 L919.8,783.7 L917.2,780.7 L914.7,777.7 L912.4,774.6 L910.1,771.5 L907.9,768.3 L905.8,765.1 L903.7,761.8 L901.7,758.5 L899.6,755.2 L897.6,751.8 L895.5,748.4 L893.4,745.0 L891.3,741.5 L889.1,737.9 L886.9,734.4 L884.5,730.9 L882.2,727.4 L879.8,723.9 L877.3,720.5 L874.7,717.2 L872.1,713.9 L869.4,710.7 L866.6,707.7 L863.8,704.8 L860.9,702.0 L857.9,699.4 L854.8,696.9 L851.6,694.7 L848.4,692.6 L845.0,690.8 L841.6,689.2 L838.1,687.8 L834.4,686.7 L830.7,685.9 L827.0,685.3 L823.1,684.8 L819.2,684.6 L815.3,684.6 L811.3,684.7 L807.3,685.0 L803.2,685.5 L799.1,686.0 L795.1,686.7 L791.0,687.5 L786.9,688.4 L782.9,689.4 L778.8,690.4 L774.8,691.4 L770.9,692.6 L766.9,693.7 L763.0,695.0 L759.1,696.2 L755.3,697.6 L751.5,698.9 L747.7,700.4 L743.9,701.8 L740.2,703.4 L736.5,704.9 L732.8,706.5 L729.2,708.2 L725.6,709.9 L722.0,711.7 L718.4,713.5 L714.9,715.3 L711.4,717.2 L707.9,719.2 L704.5,721.2 L701.1,723.2 L697.7,725.3 L694.3,727.4 L691.0,729.6 L687.7,731.8 L684.4,734.0 L681.2,736.3 L678.0,738.6 L674.8,741.0 L671.6,743.4 L668.5,745.9 L665.4,748.4 L662.3,750.9 L659.3,753.5 L656.3,756.1 L653.3,758.7 L650.3,761.4 L647.4,764.1 L644.4,766.9 L641.5,769.7 L638.7,772.5 L635.8,775.3 L633.0,778.2 L630.2,781.1 L627.4,784.0 L624.7,786.9 L622.0,789.9 L619.3,792.9 L616.6,795.9 L613.9,798.9 L611.3,802.0 L608.7,805.0 L606.1,808.1 L603.5,811.2 L601.0,814.3 L598.5,817.4 L596.0,820.6 L593.5,823.7 L591.0,826.9 L588.6,830.1 L586.2,833.3 L583.9,836.6 L581.6,839.8 L579.3,843.1 L577.0,846.4 L574.8,849.8 L572.7,853.2 L570.6,856.6 L568.5,860.0 L566.5,863.5 L564.5,867.0 L562.6,870.5 L560.7,874.0 L558.8,877.6 L556.9,881.1 L555.1,884.7 L553.2,888.3 L551.3,891.8 L549.5,895.4 L547.6,899.0 L545.8,902.5 L543.9,906.1 L542.1,909.7 L540.3,913.2 L538.4,916.8 L536.6,920.4 L534.8,924.0 L532.9,927.5 L531.1,931.1 L529.3,934.7 L527.5,938.3 L525.7,941.8 L523.9,945.4 L522.0,949.0 L520.2,952.6 L518.4,956.2 L516.6,959.8 L514.8,963.3 L513.0,966.9 L511.2,970.5 L509.4,974.1 L507.6,977.7 L505.8,981.3 L504.0,984.9 L502.2,988.4 L500.4,992.0 L498.6,995.6 L496.9,999.2 L495.1,1002.8 L493.3,1006.4 L491.5,1010.0 L489.7,1013.6 L487.9,1017.2 L486.1,1020.8 L484.3,1024.4 L482.5,1028.0 L480.7,1031.6 L478.9,1035.1 L477.2,1038.7 L475.4,1042.3 L473.6,1045.9 L471.8,1049.5 L470.0,1053.1 L468.2,1056.7 L466.4,1060.3 L464.6,1063.9 L462.8,1067.5 L461.0,1071.1 L459.2,1074.7 L457.4,1078.3 L455.6,1081.9 L453.8,1085.5 L452.0,1089.1 L450.2,1092.7 L448.4,1096.3 L446.6,1099.9 L444.8,1103.5 L443.0,1107.1 L441.2,1110.7 L439.4,1114.3 L437.6,1117.9 L435.8,1121.5 L434.1,1125.1 L432.3,1128.8 L430.6,1132.4 L428.8,1136.0 L427.1,1139.6 L425.3,1143.3 L423.6,1146.9 L421.9,1150.5 L420.2,1154.2 L418.5,1157.8 L416.8,1161.5 L415.1,1165.1 L413.5,1168.8 L411.8,1172.4 L410.2,1176.1 L408.6,1179.8 L407.0,1183.5 L405.4,1187.1 L403.8,1190.8 L402.2,1194.5 L400.7,1198.2 L399.2,1201.9 L397.6,1205.6 L396.1,1209.3 L394.7,1213.1 L393.2,1216.8 L391.8,1220.5 L390.3,1224.3 L388.9,1228.0 L387.5,1231.8 L386.2,1235.5 L384.8,1239.3 L383.5,1243.1 L382.2,1246.9 L380.9,1250.7 L379.7,1254.5 L378.4,1258.3 L377.2,1262.1 L376.1,1265.9 L374.9,1269.8 L373.8,1273.6 L372.7,1277.5 L371.6,1281.3 L370.5,1285.2 L369.5,1289.1 L368.5,1293.0 L367.6,1296.9 L366.6,1300.8 L365.7,1304.7 L364.8,1308.7 L364.0,1312.6 L363.2,1316.6 L362.4,1320.5 L361.6,1324.5 L360.9,1328.5 L361.1,1324.5 L361.2,1320.5 L361.4,1316.5 L361.6,1312.5 L361.8,1308.5 L361.9,1304.5 L362.1,1300.5 L362.3,1296.5 L362.5,1292.5 L362.6,1288.5 L362.8,1284.5 L363.0,1280.5 L363.2,1276.5 L363.4,1272.5 L363.6,1268.5 L363.7,1264.5 L363.9,1260.5 L364.1,1256.4 L364.3,1252.4 L364.5,1248.4 L364.7,1244.4 L364.9,1240.4 L365.1,1236.4 L365.3,1232.4 L365.6,1228.4 L365.8,1224.4 L366.0,1220.4 L366.2,1216.4 L366.4,1212.4 L366.7,1208.4 L366.9,1204.4 L367.1,1200.4 L367.4,1196.4 L367.6,1192.4 L367.8,1188.4 L368.1,1184.4 L368.3,1180.4 L368.6,1176.4 L368.9,1172.4 L369.1,1168.4 L369.4,1164.4 L369.7,1160.4 L369.9,1156.4 L370.2,1152.4 L370.5,1148.4 L370.8,1144.4 L371.1,1140.4 L371.4,1136.4 L371.7,1132.4 L372.0,1128.4 L372.3,1124.4 L372.6,1120.4 L372.9,1116.4 L373.3,1112.4 L373.6,1108.4 L373.9,1104.4 L374.3,1100.4 L374.6,1096.4 L375.0,1092.4 L375.3,1088.4 L375.7,1084.4 L376.1,1080.4 L376.5,1076.4 L376.9,1072.5 L377.2,1068.5 L377.6,1064.5 L378.0,1060.5 L378.5,1056.5 L378.9,1052.5 L379.3,1048.5 L379.7,1044.6 L380.2,1040.6 L380.6,1036.6 L381.0,1032.6 L381.5,1028.6 L382.0,1024.7 L382.4,1020.7 L382.9,1016.7 L383.4,1012.7 L383.9,1008.7 L384.4,1004.8 L384.9,1000.8 L385.4,996.8 L385.9,992.9 L386.5,988.9 L387.0,984.9 L387.6,981.0 L388.1,977.0 L388.7,973.0 L389.2,969.1 L389.8,965.1 L390.4,961.1 L391.0,957.2 L391.6,953.2 L392.2,949.3 L392.9,945.3 L393.5,941.4 L394.1,937.4 L394.8,933.5 L395.4,929.5 L396.1,925.6 L396.8,921.6 L397.5,917.7 L398.2,913.7 L398.9,909.8 L399.6,905.8 L400.3,901.9 L401.0,898.0 L401.8,894.0 L402.5,890.1 L403.3,886.2 L404.1,882.2 L404.8,878.3 L405.6,874.4 L406.4,870.4 L407.3,866.5 L408.1,862.6 L408.9,858.7 L409.8,854.8 L410.6,850.8 L411.5,846.9 L412.4,843.0 L413.2,839.1 L414.1,835.2 L415.1,831.3 L416.0,827.4 L416.9,823.5 L417.9,819.6 L418.8,815.7 L419.8,811.8 L420.8,807.9 L421.8,804.0 L422.8,800.1 L423.8,796.2 L424.8,792.3 L425.9,788.4 L426.9,784.5 L428.0,780.7 L429.1,776.8 L430.2,772.9 L431.3,769.1 L432.5,765.2 L433.6,761.4 L434.8,757.6 L436.0,753.7 L437.2,749.9 L438.5,746.1 L439.8,742.3 L441.0,738.5 L442.4,734.7 L443.7,730.9 L445.0,727.2 L446.4,723.4 L447.8,719.7 L449.3,715.9 L450.7,712.2 L452.2,708.5 L453.7,704.8 L455.2,701.1 L456.8,697.4 L458.4,693.7 L460.0,690.1 L461.7,686.5 L463.3,682.8 L465.1,679.2 L466.8,675.6 L468.6,672.1 L470.4,668.5 L472.2,665.0 L474.1,661.4 L476.0,657.9 L477.9,654.4 L479.9,650.9 L481.9,647.5 L484.0,644.0 L486.1,640.6 L488.2,637.2 L490.4,633.8 L492.6,630.5 L494.8,627.1 L497.1,623.8 L499.4,620.5 L501.8,617.3 L504.2,614.0 L506.6,610.8 L509.1,607.6 L511.6,604.5 L514.2,601.4 L516.8,598.3 L519.5,595.3 L522.2,592.3 L524.9,589.4 L527.7,586.5 L530.5,583.7 L533.4,580.9 L536.3,578.2 L539.3,575.5 L542.3,572.9 L545.3,570.3 L548.4,567.8 L551.6,565.4 L554.8,563.0 L558.0,560.7 L561.2,558.4 L564.5,556.1 L567.8,553.9 L571.2,551.7 L574.5,549.6 L577.9,547.5 L581.3,545.4 L584.8,543.3 L588.2,541.3 L591.7,539.2 L595.2,537.2 L598.6,535.2 L602.1,533.2 L605.6,531.2 L609.1,529.2 L612.6,527.2 L616.1,525.2 L619.6,523.2 L623.1,521.2 L626.6,519.1 L630.1,517.1 L633.6,515.1 L637.1,513.0 L640.5,511.0 L644.0,509.0 L647.5,506.9 L651.0,504.9 L654.5,502.8 L657.9,500.8 L661.4,498.7 L664.9,496.7 L668.4,494.6 L671.8,492.6 L675.3,490.5 L678.8,488.5 L682.3,486.4 L685.7,484.4 L689.2,482.4 L692.7,480.3 L696.1,478.3 L699.6,476.3 L703.1,474.3 L706.5,472.3 L710.0,470.3 L713.5,468.3 L717.0,466.3 L720.4,464.4 L723.9,462.4 L727.4,460.4 L730.9,458.5 L734.3,456.6 L737.8,454.7 L741.3,452.8 L744.8,450.9 L748.3,449.0 L751.7,447.1 L755.2,445.3 L758.7,443.5 L762.3,441.7 L765.8,439.9 L769.3,438.1 L772.8,436.4 L776.4,434.6 L779.9,432.9 L783.5,431.2 L787.1,429.6 L790.7,427.9 L794.3,426.3 L797.9,424.7 L801.6,423.2 L805.3,421.7 L809.0,420.2 L812.7,418.7 L816.4,417.3 L820.2,415.9 L824.0,414.5 L827.8,413.1 L831.6,411.8 L835.4,410.5 L839.3,409.2 L843.1,408.0 L847.0,406.7 L850.9,405.5 L854.8,404.3 L858.7,403.1 L862.6,401.9 L866.5,400.7 L870.5,399.5 L874.4,398.3 L878.3,397.1 L882.2,395.9 L886.1,394.7 L890.0,393.5 L893.9,392.3 L897.8,391.1 L901.7,389.9 L905.6,388.6 L909.5,387.3 L913.3,386.0 L917.2,384.7 L921.0,383.4 L924.8,382.0 L928.5,380.6 L932.3,379.2 L936.0,377.7 L939.7,376.2 L943.4,374.7 L947.1,373.1 L950.7,371.5 L954.3,369.8 L957.8,368.1 L961.3,366.4 L964.8,364.6 L968.3,362.7 L971.7,360.8 L975.0,358.8 L978.4,356.8 L981.6,354.7 L984.9,352.5 L988.0,350.3 L991.2,348.0 L994.3,345.6 L997.3,343.2 L1000.3,340.6 L1003.2,338.1 L1006.1,335.4 L1008.9,332.7 L1011.7,329.9 L1014.5,327.1 L1017.2,324.2 L1019.8,321.2 L1022.4,318.2 L1025.0,315.1 L1027.6,312.0 L1030.1,308.9 L1032.6,305.7 L1035.0,302.4 L1037.4,299.1 L1039.8,295.8 L1042.2,292.5 L1044.5,289.1 L1046.8,285.7 L1049.1,282.2 L1051.3,278.8 L1053.6,275.3 L1055.8,271.8 L1058.0,268.2 L1060.2,264.7 L1062.4,261.1 L1064.5,257.5 L1066.7,254.0 L1068.8,250.4 L1071.0,246.8 L1073.1,243.2 L1075.2,239.6 L1077.4,236.1 L1079.7,232.6 L1082.0,229.3 L1084.5,226.1 L1087.1,223.0 L1089.9,220.1 L1092.9,217.4 L1096.1,215.0 L1099.4,212.9 L1102.8,211.1 L1106.3,209.7 L1109.8,208.7 L1113.3,208.3 L1116.8,208.3 L1120.3,208.7 L1123.6,209.6 L1126.7,211.0 L1129.6,212.8 L1132.3,215.0 L1134.9,217.6 L1137.2,220.5 L1139.4,223.6 L1141.5,227.0 L1143.4,230.6 L1145.2,234.3 L1147.0,238.1 L1148.6,242.0 L1150.2,245.9 L1151.7,249.8 L1153.2,253.7 L1154.6,257.6 L1156.0,261.4 L1157.4,265.2 L1158.7,269.1 L1160.0,272.9 L1161.2,276.7 L1162.4,280.5 L1163.5,284.2 L1164.7,288.0 L1165.8,291.8 L1166.8,295.5 L1167.9,299.3 L1168.9,303.0 L1169.9,306.8 L1170.9,310.5 L1171.8,314.3 L1172.8,318.0 L1173.7,321.7 L1174.6,325.5 L1175.5,329.2 L1176.4,333.0 L1177.3,336.7 L1178.2,340.5 L1179.1,344.2 L1180.0,348.0 L1180.9,351.8 L1181.8,355.6 L1182.6,359.4 L1183.5,363.2 L1184.4,367.0 L1185.4,370.8 L1186.3,374.7 L1187.2,378.5 L1188.2,382.4 L1189.2,386.3 L1190.2,390.2 L1191.2,394.1 L1192.3,398.0 L1193.3,401.9 L1194.4,405.8 L1195.6,409.7 L1196.8,413.7 L1198.0,417.6 L1199.2,421.5 L1200.5,425.4 L1201.9,429.2 L1203.3,433.1 L1204.7,436.9 L1206.2,440.7 L1207.8,444.5 L1209.4,448.3 L1211.0,452.0 L1212.8,455.7 L1214.6,459.4 L1216.5,463.0 L1218.4,466.6 L1220.4,470.1 L1222.5,473.5 L1224.8,476.8 L1227.1,480.0 L1229.5,483.1 L1232.0,486.0 L1234.7,488.8 L1237.5,491.4 L1240.4,493.8 L1243.5,496.1 L1246.7,498.1 L1250.1,499.9 L1253.6,501.5 L1257.2,502.9 L1260.9,504.2 L1264.7,505.2 L1268.7,506.2 L1272.7,506.9 L1276.7,507.6 L1280.8,508.1 L1285.0,508.5 L1289.1,508.9 L1293.3,509.1 L1297.5,509.3 L1301.7,509.4 L1305.9,509.4 L1310.1,509.4 L1314.2,509.4 L1318.3,509.4 L1322.4,509.3 L1326.4,509.2 L1330.5,509.0 L1334.5,508.9 L1338.5,508.7 L1342.4,508.5 L1346.4,508.3 L1350.4,508.0 L1354.3,507.8 L1358.2,507.5 L1362.2,507.2 L1366.1,506.9 L1370.0,506.7 L1374.0,506.4 L1377.9,506.1 L1381.8,505.8 L1385.8,505.5 L1389.7,505.2 L1393.7,504.9 L1397.6,504.6 L1401.6,504.3 L1405.5,504.0 L1409.5,503.7 L1413.5,503.4 L1417.5,503.1 L1421.4,502.8 L1425.4,502.5 L1429.4,502.2 L1433.4,501.8 L1437.4,501.5 L1441.4,501.2 L1445.4,500.9 L1449.4,500.6 L1453.4,500.3 L1457.4,500.0 L1461.4,499.7 L1465.4,499.4 L1469.4,499.1 L1473.4,498.7 L1477.4,498.4 L1481.4,498.1 L1485.5,497.8 L1489.5,497.4 L1493.5,497.1 L1497.5,496.8 L1501.5,496.5 L1505.5,496.1 L1509.5,495.8 L1513.6,495.5 L1517.6,495.1 L1521.6,494.8 L1525.6,494.5 L1529.6,494.1 L1533.6,493.8 L1537.6,493.4 L1541.6,493.1 L1545.6,492.7 L1549.6,492.3 L1553.6,491.9 L1557.6,491.5 L1561.6,491.1 L1565.6,490.7 L1569.6,490.3 L1573.5,489.8 L1577.5,489.4 L1581.5,488.9 L1585.5,488.4 L1589.4,487.9 L1593.4,487.3 L1597.3,486.8 L1601.3,486.2 L1605.2,485.6 L1609.2,484.9 L1613.1,484.3 L1617.0,483.6 L1621.0,482.9 L1624.9,482.1 L1628.8,481.4 L1632.7,480.6 L1636.6,479.7 L1640.5,478.9 L1644.4,478.0 L1648.3,477.0 L1652.1,476.1 L1656.0,475.1 L1659.8,474.0 L1663.7,472.9 L1667.5,471.8 L1671.4,470.6 L1675.2,469.4 L1679.0,468.2 L1682.8,466.9 L1686.6,465.5 L1690.4,464.2 L1694.2,462.7 L1697.9,461.3 L1701.7,459.8 L1705.5,458.2 L1709.2,456.7 L1713.0,455.1 L1716.7,453.6 L1720.4,452.0 L1724.2,450.4 L1727.9,448.9 L1731.7,447.3 L1735.4,445.8 L1739.1,444.3 L1742.9,442.8 L1746.6,441.4 L1750.4,440.0 L1754.1,438.6 L1757.9,437.3 L1761.6,436.1 L1765.4,434.9 L1769.2,433.8 L1773.0,432.7 L1776.8,431.7 L1780.6,430.8 L1784.4,430.0 L1788.2,429.2 L1792.0,428.4 L1795.9,427.7 L1799.8,427.0 L1803.7,426.3 L1807.6,425.7 L1811.5,425.1 L1815.5,424.5 L1819.4,423.8 L1823.4,423.2 L1827.5,422.6 L1831.5,421.9 L1835.6,421.2 L1839.7,420.5 L1843.8,419.7 L1847.9,419.0 L1852.0,418.1 L1856.1,417.2 L1860.1,416.3 L1864.1,415.2 L1868.1,414.2 L1872.1,413.0 L1876.0,411.8 L1879.9,410.5 L1883.7,409.0 L1887.4,407.5 L1891.1,405.9 L1894.7,404.2 L1898.2,402.4 L1901.6,400.5 L1904.9,398.4 L1908.2,396.3 L1911.3,394.0 L1914.2,391.5 L1917.1,388.9 L1919.8,386.2 L1922.4,383.3 L1924.9,380.3 L1927.2,377.2 L1929.4,373.9 L1931.6,370.5 L1933.6,367.1 L1935.5,363.5 L1937.4,360.0 L1939.2,356.3 L1940.9,352.7 L1942.6,349.0 L1944.2,345.3 L1945.8,341.6 L1947.4,337.9 L1948.9,334.1 L1950.4,330.4 L1951.8,326.6 L1953.2,322.9 L1954.6,319.1 L1955.9,315.3 L1957.2,311.5 L1958.4,307.7 L1959.6,303.9 L1960.8,300.1 L1962.0,296.2 L1963.1,292.4 L1964.2,288.5 L1965.2,284.7 L1966.3,280.8 L1967.3,276.9 L1968.3,273.1 L1969.2,269.2 L1970.1,265.3 L1971.1,261.4 L1972.0,257.5 L1972.8,253.6 L1973.7,249.7 L1974.5,245.8 L1975.3,241.8 L1976.1,237.9 L1976.9,234.0 L1977.7,230.1 L1978.5,226.1 L1979.2,222.2 L1979.9,218.3 L1980.7,214.3 L1981.4,210.4 L1982.1,206.4 L1982.8,202.5 L1983.5,198.5 L1984.2,194.6 L1984.9,190.6 L1985.6,186.7 L1986.2,182.8 L1986.9,178.8 L1987.5,174.8 L1988.2,170.9 L1988.8,166.9 L1989.4,163.0 L1990.0,159.0 L1990.6,155.1 L1991.2,151.1 L1991.8,147.2 L1992.4,143.2 L1992.9,139.2 L1993.5,135.3 L1994.0,131.3 L1994.5,127.3 L1995.0,123.3 L1995.5,119.4 L1996.0,115.4 L1996.4,111.4 L1996.8,107.4 L1997.3,103.5 L1997.7,99.5 L1998.0,95.5 L1998.4,91.5 L1998.7,87.5 L1999.1,83.5 L1999.4,79.5 L1999.7,75.5 L1999.9,71.5 L2000.2,67.5 L2000.4,63.5 L2000.6,59.5 L2000.8,55.4 L2001.0,51.4 L2001.1,47.4 L2003.2,51.3 L2003.1,55.3 L2002.9,59.3 L2002.7,63.2 L2002.5,67.2 L2002.3,71.2 L2002.0,75.2 L2001.8,79.1 L2001.5,83.1 L2001.1,87.1 L2000.8,91.1 L2000.4,95.1 L2000.1,99.2 L1999.7,103.2 L1999.3,107.2 L1998.8,111.2 L1998.4,115.2 L1997.9,119.2 L1997.5,123.3 L1997.0,127.3 L1996.5,131.3 L1996.0,135.3 L1995.5,139.4 L1994.9,143.4 L1994.4,147.4 L1993.8,151.5 L1993.3,155.5 L1992.7,159.5 L1992.1,163.6 L1991.5,167.6 L1990.9,171.6 L1990.4,175.7 L1989.8,179.7 L1989.2,183.7 L1988.5,187.7 L1987.9,191.8 L1987.3,195.8 L1986.7,199.8 L1986.1,203.8 L1985.5,207.8 L1984.9,211.8 L1984.3,215.8 L1983.7,219.8 L1983.1,223.8 L1982.5,227.8 L1981.9,231.8 L1981.3,235.7 L1980.7,239.7 L1980.1,243.7 L1979.5,247.6 L1979.0,251.6 L1978.4,255.5 L1977.9,259.5 L1977.3,263.4 L1976.8,267.3 L1976.2,271.3 L1975.7,275.2 L1975.1,279.1 L1974.6,283.1 L1974.0,287.0 L1973.4,290.9 L1972.9,294.8 L1972.3,298.7 L1971.8,302.6 L1971.2,306.5 L1970.6,310.5 L1970.0,314.4 L1969.4,318.3 L1968.8,322.2 L1968.2,326.1 L1967.6,330.0 L1966.9,333.9 L1966.3,337.8 L1965.6,341.7 L1964.9,345.7 L1964.2,349.6 L1963.5,353.5 L1962.8,357.4 L1962.0,361.4 L1961.3,365.3 L1960.5,369.2 L1959.7,373.2 L1958.9,377.1 L1958.0,381.1 L1957.2,385.0 L1956.3,389.0 L1955.4,392.9 L1954.4,396.9 L1953.5,400.9 L1952.5,404.9 L1951.5,408.9 L1950.4,412.8 L1949.3,416.8 L1948.2,420.8 L1947.1,424.8 L1945.9,428.8 L1944.7,432.8 L1943.4,436.7 L1942.1,440.6 L1940.8,444.6 L1939.4,448.4 L1938.0,452.3 L1936.5,456.2 L1935.0,460.0 L1933.4,463.7 L1931.8,467.5 L1930.1,471.2 L1928.4,474.8 L1926.6,478.4 L1924.7,482.0 L1922.8,485.5 L1920.8,488.9 L1918.7,492.3 L1916.6,495.6 L1914.5,498.9 L1912.2,502.1 L1909.9,505.2 L1907.5,508.3 L1905.0,511.3 L1902.5,514.2 L1899.8,517.0 L1897.1,519.7 L1894.4,522.4 L1891.5,525.0 L1888.5,527.4 L1885.5,529.8 L1882.4,532.1 L1879.1,534.3 L1875.8,536.3 L1872.4,538.3 L1868.9,540.2 L1865.4,541.9 L1861.7,543.6 L1858.0,545.2 L1854.3,546.8 L1850.5,548.3 L1846.6,549.8 L1842.8,551.2 L1838.8,552.6 L1834.9,554.0 L1831.0,555.4 L1827.1,556.7 L1823.1,558.1 L1819.2,559.5 L1815.3,561.0 L1811.4,562.4 L1807.6,563.9 L1803.8,565.5 L1800.0,567.1 L1796.4,568.8 L1792.7,570.6 L1789.2,572.4 L1785.7,574.4 L1782.3,576.5 L1779.0,578.7 L1775.8,581.0 L1772.7,583.4 L1769.7,585.9 L1766.8,588.6 L1764.0,591.3 L1761.2,594.2 L1758.5,597.1 L1755.9,600.1 L1753.3,603.2 L1750.7,606.3 L1748.2,609.4 L1745.7,612.6 L1743.2,615.9 L1740.7,619.1 L1738.3,622.4 L1735.8,625.6 L1733.3,628.9 L1730.8,632.1 L1728.2,635.3 L1725.6,638.5 L1723.0,641.6 L1720.3,644.7 L1717.5,647.7 L1714.7,650.6 L1711.8,653.5 L1708.8,656.2 L1705.7,658.9 L1702.6,661.3 L1699.4,663.6 L1696.1,665.7 L1692.8,667.5 L1689.4,669.1 L1686.0,670.3 L1682.5,671.2 L1678.9,671.8 L1675.3,672.1 L1671.7,672.0 L1668.0,671.5 L1664.4,670.8 L1660.7,669.8 L1657.0,668.5 L1653.2,667.0 L1649.5,665.4 L1645.8,663.6 L1642.0,661.6 L1638.3,659.6 L1634.5,657.5 L1630.8,655.4 L1627.1,653.2 L1623.3,651.1 L1619.6,649.1 L1616.0,647.1 L1612.3,645.1 L1608.6,643.2 L1604.9,641.3 L1601.3,639.5 L1597.6,637.7 L1594.0,636.0 L1590.3,634.3 L1586.7,632.7 L1583.0,631.1 L1579.3,629.6 L1575.7,628.1 L1572.0,626.6 L1568.3,625.2 L1564.6,623.9 L1560.9,622.6 L1557.2,621.4 L1553.5,620.2 L1549.7,619.1 L1545.9,618.0 L1542.1,616.9 L1538.3,616.0 L1534.5,615.0 L1530.6,614.2 L1526.7,613.4 L1522.8,612.6 L1518.9,611.9 L1514.9,611.2 L1510.9,610.6 L1506.8,610.1 L1502.8,609.6 L1498.7,609.2 L1494.5,608.8 L1490.3,608.5" fill="none" stroke="#000000" stroke-width="6.5" stroke-linejoin="bevel" stroke-linecap="butt"/>
<path d="M1490.3,592.5 L1486.3,593.3 L1482.4,594.1 L1478.4,594.8 L1474.5,595.5 L1470.5,596.2 L1466.6,596.9 L1462.6,597.6 L1458.6,598.3 L1454.7,598.9 L1450.7,599.5 L1446.8,600.1 L1442.8,600.7 L1438.8,601.3 L1434.8,601.8 L1430.9,602.4 L1426.9,602.9 L1422.9,603.4 L1418.9,603.9 L1415.0,604.4 L1411.0,604.8 L1407.0,605.3 L1403.0,605.7 L1399.0,606.1 L1395.1,606.5 L1391.1,606.9 L1387.1,607.3 L1383.1,607.7 L1379.1,608.0 L1375.1,608.4 L1371.1,608.7 L1367.1,609.0 L1363.1,609.3 L1359.1,609.6 L1355.1,609.9 L1351.1,610.1 L1347.1,610.4 L1343.1,610.6 L1339.1,610.8 L1335.1,611.1 L1331.1,611.3 L1327.1,611.5 L1323.1,611.6 L1319.1,611.8 L1315.1,612.0 L1311.1,612.1 L1307.1,612.3 L1303.1,612.4 L1299.1,612.5 L1295.1,612.7 L1291.1,612.8 L1287.1,612.9 L1283.1,613.0 L1279.0,613.1 L1275.0,613.1 L1271.0,613.2 L1267.0,613.3 L1263.0,613.3 L1259.0,613.4 L1254.9,613.4 L1250.9,613.5 L1246.9,613.5 L1242.9,613.5 L1238.9,613.5 L1234.9,613.5 L1230.8,613.5 L1226.8,613.6 L1222.8,613.5 L1218.8,613.5 L1214.7,613.5 L1210.7,613.5 L1206.7,613.5 L1202.7,613.5 L1198.7,613.4 L1194.6,613.4 L1190.6,613.4 L1186.6,613.3 L1182.6,613.3 L1178.5,613.3 L1174.5,613.2 L1170.5,613.2 L1166.5,613.1 L1162.4,613.1 L1158.4,613.0 L1154.4,613.0 L1150.4,612.9 L1146.3,612.8 L1142.3,612.8 L1138.3,612.7 L1134.3,612.7 L1130.2,612.6 L1126.2,612.6 L1122.2,612.5 L1118.2,612.5 L1114.1,612.4 L1110.1,612.3 L1106.1,612.3 L1102.1,612.2 L1098.0,612.2 L1094.0,612.1 L1090.0,612.1 L1086.0,612.1 L1081.9,612.0 L1077.9,612.0 L1073.9,611.9 L1069.9,611.9 L1065.8,611.9 L1061.8,611.9 L1057.8,611.8 L1053.8,611.8 L1049.8,611.8 L1045.7,611.8 L1041.7,611.8 L1037.7,611.8 L1033.7,611.8 L1029.7,611.8 L1025.6,611.9 L1021.6,611.9 L1017.6,611.9 L1013.6,611.9 L1009.6,612.0 L1005.5,612.0 L1001.5,612.1 L997.5,612.2 L993.5,612.2 L989.5,612.3 L985.5,612.4 L981.5,612.5 L977.4,612.6 L973.4,612.7 L969.4,612.8 L965.4,612.9 L961.4,613.1 L957.4,613.2 L953.4,613.4 L949.4,613.5 L945.4,613.7 L941.4,613.9 L937.4,614.1 L933.4,614.2 L929.4,614.4 L925.4,614.7 L921.4,614.9 L917.4,615.1 L913.4,615.3 L909.4,615.6 L905.4,615.9 L901.4,616.1 L897.4,616.4 L893.4,616.7 L889.4,617.0 L885.4,617.3 L881.4,617.6 L877.4,617.9 L873.4,618.3 L869.5,618.6 L865.5,619.0 L861.5,619.4 L857.5,619.7 L853.5,620.1 L849.5,620.5 L845.6,621.0 L841.6,621.4 L837.6,621.8 L833.6,622.3 L829.6,622.7 L825.7,623.2 L821.7,623.7 L817.7,624.2 L813.7,624.7 L809.8,625.2 L805.8,625.8 L801.8,626.3 L797.9,626.9 L793.9,627.4 L789.9,628.0 L786.0,628.6 L782.0,629.2 L778.1,629.8 L774.1,630.5 L770.1,631.1 L766.2,631.8 L762.2,632.5 L758.3,633.2 L754.3,633.9 L750.4,634.6 L746.4,635.3 L742.5,636.1 L738.5,636.8 L734.6,637.6 L730.7,638.4 L726.7,639.2 L722.8,640.0 L718.8,640.8 L714.9,641.7 L711.0,642.5 L707.0,643.4 L703.1,644.3 L699.2,645.2 L695.3,646.1 L691.3,647.1 L687.4,648.0 L683.5,649.0 L679.6,650.0 L675.7,651.0 L671.7,652.0 L667.8,653.1 L663.9,654.1 L660.0,655.2 L656.2,656.3 L652.3,657.4 L648.4,658.6 L644.5,659.7 L640.7,660.9 L636.8,662.1 L633.0,663.4 L629.2,664.6 L625.3,665.9 L621.5,667.2 L617.7,668.5 L613.9,669.9 L610.1,671.3 L606.4,672.7 L602.6,674.1 L598.9,675.6 L595.1,677.1 L591.4,678.6 L587.7,680.1 L584.0,681.7 L580.4,683.3 L576.7,684.9 L573.1,686.6 L569.5,688.3 L565.9,690.0 L562.3,691.8 L558.7,693.6 L555.1,695.4 L551.6,697.3 L548.1,699.2 L544.6,701.1 L541.1,703.1 L537.7,705.1 L534.3,707.2 L530.9,709.2 L527.5,711.4 L524.2,713.5 L520.9,715.8 L517.6,718.0 L514.4,720.4 L511.2,722.7 L508.0,725.1 L504.9,727.6 L501.9,730.2 L498.9,732.7 L495.9,735.4 L493.0,738.1 L490.2,740.9 L487.4,743.7 L484.7,746.6 L482.0,749.6 L479.4,752.6 L476.9,755.7 L474.4,758.8 L471.9,762.0 L469.5,765.2 L467.1,768.5 L464.7,771.8 L462.4,775.1 L460.1,778.4 L457.8,781.8 L455.6,785.1 L453.3,788.5 L451.1,791.9 L448.9,795.3 L446.7,798.7 L444.6,802.1 L442.4,805.5 L440.3,808.9 L438.2,812.4 L436.0,815.8 L434.0,819.3 L431.9,822.8 L429.8,826.2 L427.8,829.7 L425.7,833.2 L423.7,836.7 L421.7,840.2 L419.7,843.7 L417.7,847.2 L415.8,850.7 L413.8,854.2 L411.9,857.7 L409.9,861.3 L408.0,864.8 L406.1,868.3 L404.2,871.9 L402.3,875.4 L400.4,878.9 L398.5,882.4 L396.6,886.0 L394.7,889.5 L392.9,893.0 L391.0,896.6 L389.1,900.1 L387.3,903.6 L385.5,907.2 L383.7,910.7 L381.9,914.3 L380.1,917.9 L378.3,921.4 L376.6,925.0 L374.9,928.6 L373.2,932.2 L371.5,935.9 L369.9,939.5 L368.3,943.2 L366.7,946.9 L365.1,950.6 L363.6,954.3 L362.2,958.1 L360.7,961.9 L359.3,965.7 L359.5,961.6 L359.7,957.6 L360.0,953.6 L360.2,949.5 L360.5,945.5 L360.8,941.5 L361.2,937.5 L361.5,933.5 L361.9,929.5 L362.3,925.5 L362.7,921.5 L363.1,917.5 L363.6,913.6 L364.1,909.6 L364.6,905.6 L365.1,901.7 L365.6,897.7 L366.2,893.7 L366.7,889.8 L367.3,885.9 L367.9,881.9 L368.6,878.0 L369.2,874.0 L369.9,870.1 L370.5,866.2 L371.2,862.3 L371.9,858.3 L372.7,854.4 L373.4,850.5 L374.2,846.6 L375.0,842.7 L375.7,838.8 L376.5,834.8 L377.4,830.9 L378.2,827.0 L379.0,823.1 L379.9,819.2 L380.8,815.3 L381.7,811.4 L382.6,807.5 L383.5,803.6 L384.4,799.6 L385.4,795.7 L386.3,791.8 L387.3,787.9 L388.3,784.0 L389.3,780.1 L390.3,776.2 L391.3,772.3 L392.4,768.4 L393.5,764.5 L394.6,760.7 L395.7,756.8 L396.8,752.9 L398.0,749.1 L399.2,745.2 L400.4,741.4 L401.6,737.5 L402.9,733.7 L404.1,729.9 L405.4,726.1 L406.8,722.3 L408.1,718.5 L409.5,714.7 L410.9,711.0 L412.4,707.2 L413.8,703.5 L415.3,699.7 L416.9,696.0 L418.4,692.4 L420.0,688.7 L421.6,685.0 L423.3,681.4 L425.0,677.7 L426.7,674.1 L428.5,670.6 L430.3,667.0 L432.1,663.4 L434.0,659.9 L435.9,656.4 L437.9,652.9 L439.9,649.4 L441.9,646.0 L444.0,642.6 L446.2,639.3 L448.4,636.0 L450.6,632.7 L453.0,629.5 L455.4,626.4 L457.9,623.3 L460.4,620.3 L463.0,617.3 L465.7,614.5 L468.5,611.7 L471.4,609.0 L474.4,606.3 L477.4,603.8 L480.5,601.3 L483.7,598.9 L486.9,596.5 L490.2,594.3 L493.6,592.1 L497.0,590.0 L500.4,588.0 L503.9,586.0 L507.5,584.2 L511.0,582.3 L514.6,580.6 L518.3,578.9 L522.0,577.3 L525.7,575.7 L529.4,574.2 L533.1,572.8 L536.9,571.4 L540.7,570.0 L544.5,568.7 L548.3,567.4 L552.2,566.2 L556.0,565.0 L559.9,563.8 L563.7,562.6 L567.6,561.5 L571.4,560.4 L575.3,559.3 L579.2,558.2 L583.0,557.1 L586.9,556.1 L590.8,555.1 L594.6,554.0 L598.5,553.0 L602.4,552.0 L606.2,551.0 L610.1,550.0 L614.0,549.1 L617.9,548.1 L621.7,547.1 L625.6,546.1 L629.5,545.1 L633.3,544.1 L637.2,543.1 L641.0,542.1 L644.9,541.0 L648.7,540.0 L652.6,538.9 L656.4,537.9 L660.3,536.8 L664.1,535.6 L667.9,534.5 L671.8,533.4 L675.6,532.2 L679.4,531.0 L683.2,529.7 L687.0,528.5 L690.8,527.2 L694.6,525.9 L698.4,524.5 L702.2,523.2 L706.0,521.8 L709.7,520.4 L713.5,519.0 L717.3,517.6 L721.0,516.2 L724.8,514.7 L728.6,513.3 L732.3,511.8 L736.0,510.3 L739.8,508.8 L743.5,507.3 L747.3,505.8 L751.0,504.3 L754.7,502.7 L758.5,501.2 L762.2,499.7 L765.9,498.1 L769.7,496.6 L773.4,495.1 L777.1,493.5 L780.8,492.0 L784.5,490.5 L788.2,489.0 L792.0,487.5 L795.7,485.9 L799.4,484.4 L803.1,483.0 L806.8,481.5 L810.5,480.0 L814.2,478.5 L818.0,477.1 L821.7,475.7 L825.4,474.3 L829.1,472.9 L832.8,471.5 L836.5,470.1 L840.2,468.7 L844.0,467.4 L847.7,466.0 L851.4,464.6 L855.1,463.3 L858.8,462.0 L862.5,460.6 L866.3,459.3 L870.0,457.9 L873.7,456.6 L877.4,455.2 L881.1,453.9 L884.8,452.5 L888.5,451.2 L892.3,449.8 L896.0,448.4 L899.7,447.0 L903.4,445.6 L907.1,444.2 L910.8,442.7 L914.5,441.3 L918.3,439.8 L922.0,438.3 L925.7,436.8 L929.4,435.3 L933.1,433.8 L936.8,432.2 L940.5,430.6 L944.2,429.0 L947.9,427.3 L951.6,425.7 L955.3,424.0 L959.0,422.2 L962.8,420.5 L966.5,418.7 L970.2,416.8 L973.9,415.0 L977.6,413.1 L981.3,411.2 L985.0,409.3 L988.7,407.4 L992.4,405.6 L996.1,403.7 L999.8,401.9 L1003.5,400.2 L1007.2,398.5 L1010.9,396.9 L1014.6,395.4 L1018.4,393.9 L1022.1,392.6 L1025.8,391.3 L1029.6,390.2 L1033.3,389.2 L1037.0,388.4 L1040.8,387.7 L1044.6,387.1 L1048.3,386.7 L1052.1,386.5 L1055.9,386.5 L1059.7,386.7 L1063.4,387.0 L1067.2,387.5 L1071.0,388.2 L1074.8,389.0 L1078.6,390.0 L1082.3,391.1 L1086.1,392.4 L1089.8,393.8 L1093.5,395.3 L1097.2,396.9 L1100.9,398.6 L1104.6,400.5 L1108.2,402.4 L1111.8,404.4 L1115.4,406.5 L1118.9,408.7 L1122.4,410.9 L1125.9,413.3 L1129.3,415.6 L1132.7,418.1 L1136.0,420.5 L1139.3,423.0 L1142.6,425.6 L1145.7,428.1 L1148.9,430.7 L1152.0,433.3 L1155.0,436.0 L1158.0,438.6 L1161.0,441.2 L1164.0,443.9 L1166.9,446.6 L1169.8,449.2 L1172.7,451.9 L1175.6,454.6 L1178.5,457.3 L1181.4,460.0 L1184.3,462.6 L1187.2,465.3 L1190.1,468.0 L1193.1,470.6 L1196.1,473.2 L1199.1,475.9 L1202.2,478.5 L1205.3,481.1 L1208.4,483.6 L1211.6,486.1 L1214.8,488.6 L1218.0,491.1 L1221.3,493.5 L1224.6,495.9 L1227.9,498.2 L1231.3,500.4 L1234.7,502.6 L1238.1,504.7 L1241.6,506.7 L1245.1,508.7 L1248.6,510.6 L1252.2,512.4 L1255.8,514.1 L1259.4,515.7 L1263.1,517.2 L1266.7,518.6 L1270.4,519.8 L1274.2,521.0 L1278.0,522.1 L1281.8,523.0 L1285.6,523.8 L1289.4,524.5 L1293.3,525.0 L1297.2,525.4 L1301.1,525.7 L1305.1,525.9 L1309.0,526.0 L1313.0,525.9 L1317.0,525.9 L1321.0,525.7 L1325.0,525.5 L1329.1,525.2 L1333.1,524.9 L1337.1,524.5 L1341.2,524.2 L1345.2,523.8 L1349.2,523.4 L1353.3,523.0 L1357.3,522.6 L1361.3,522.2 L1365.4,521.8 L1369.4,521.3 L1373.4,520.9 L1377.4,520.5 L1381.4,520.0 L1385.5,519.6 L1389.5,519.2 L1393.5,518.7 L1397.5,518.3 L1401.5,517.9 L1405.5,517.4 L1409.5,517.0 L1413.5,516.6 L1417.5,516.2 L1421.5,515.8 L1425.5,515.3 L1429.5,514.9 L1433.5,514.5 L1437.5,514.2 L1441.5,513.8 L1445.5,513.4 L1449.4,513.0 L1453.4,512.6 L1457.4,512.3 L1461.4,511.9 L1465.4,511.6 L1469.4,511.2 L1473.3,510.9 L1477.3,510.6 L1481.3,510.2 L1485.3,509.9 L1489.3,509.6 L1493.3,509.3 L1497.2,509.0 L1501.2,508.7 L1505.2,508.4 L1509.2,508.1 L1513.2,507.8 L1517.2,507.5 L1521.2,507.2 L1525.2,506.9 L1529.2,506.6 L1533.1,506.3 L1537.1,506.0 L1541.1,505.7 L1545.1,505.3 L1549.1,505.0 L1553.1,504.6 L1557.1,504.2 L1561.1,503.8 L1565.0,503.4 L1569.0,503.0 L1573.0,502.6 L1577.0,502.1 L1581.0,501.7 L1585.0,501.2 L1588.9,500.6 L1592.9,500.1 L1596.9,499.5 L1600.9,498.9 L1604.8,498.3 L1608.8,497.7 L1612.8,497.0 L1616.7,496.3 L1620.7,495.5 L1624.7,494.8 L1628.6,494.0 L1632.6,493.2 L1636.5,492.3 L1640.5,491.5 L1644.4,490.6 L1648.4,489.8 L1652.3,488.9 L1656.3,488.1 L1660.2,487.2 L1664.2,486.4 L1668.1,485.5 L1672.1,484.7 L1676.0,484.0 L1680.0,483.2 L1683.9,482.5 L1687.9,481.8 L1691.8,481.1 L1695.8,480.5 L1699.7,479.9 L1703.7,479.4 L1707.6,478.9 L1711.6,478.4 L1715.6,478.1 L1719.5,477.8 L1723.5,477.5 L1727.4,477.3 L1731.4,477.2 L1735.4,477.2 L1739.3,477.2 L1743.3,477.3 L1747.3,477.4 L1751.2,477.6 L1755.2,477.9 L1759.2,478.3 L1763.1,478.7 L1767.1,479.2 L1771.0,479.8 L1775.0,480.4 L1778.9,481.1 L1782.9,481.8 L1786.8,482.6 L1790.8,483.4 L1794.7,484.2 L1798.6,485.1 L1802.6,485.9 L1806.5,486.7 L1810.5,487.4 L1814.4,488.2 L1818.4,488.8 L1822.4,489.4 L1826.3,489.9 L1830.3,490.3 L1834.3,490.6 L1838.3,490.9 L1842.3,491.0 L1846.3,491.0 L1850.3,491.0 L1854.3,490.8 L1858.2,490.6 L1862.2,490.2 L1866.2,489.8 L1870.2,489.3 L1874.1,488.7 L1878.1,488.0 L1882.0,487.3 L1885.9,486.4 L1889.8,485.5 L1893.7,484.5 L1897.5,483.4 L1901.4,482.2 L1905.2,480.9 L1909.0,479.6 L1912.7,478.2 L1916.5,476.7 L1920.2,475.1 L1923.9,473.5 L1927.5,471.8 L1931.1,470.0 L1934.7,468.1 L1938.2,466.2 L1941.7,464.2 L1945.2,462.1 L1948.6,460.0 L1951.9,457.8 L1955.2,455.5 L1958.5,453.2 L1961.7,450.8 L1964.9,448.3 L1968.0,445.8 L1971.1,443.2 L1974.1,440.5 L1977.1,437.9 L1980.0,435.1 L1982.9,432.3 L1985.7,429.5 L1988.5,426.6 L1991.2,423.6 L1993.9,420.7 L1996.5,417.6 L1999.1,414.6 L2001.6,411.5 L2004.1,408.4 L2006.6,405.2 L2009.0,402.0 L2008.6,405.9 L2008.2,409.9 L2007.7,413.9 L2007.2,417.9 L2006.6,421.9 L2006.0,425.9 L2005.4,429.9 L2004.7,434.0 L2003.9,438.0 L2003.1,442.0 L2002.2,445.9 L2001.2,449.9 L2000.2,453.8 L1999.0,457.7 L1997.8,461.5 L1996.4,465.3 L1995.0,469.1 L1993.5,472.8 L1991.8,476.4 L1990.1,480.0 L1988.2,483.5 L1986.2,486.9 L1984.0,490.2 L1981.8,493.5 L1979.4,496.6 L1976.9,499.7 L1974.3,502.7 L1971.5,505.6 L1968.7,508.5 L1965.7,511.3 L1962.6,513.9 L1959.4,516.5 L1956.1,519.0 L1952.7,521.4 L1949.3,523.7 L1945.8,525.9 L1942.2,528.0 L1938.6,529.9 L1935.0,531.7 L1931.3,533.4 L1927.6,534.9 L1923.9,536.4 L1920.1,537.7 L1916.3,539.0 L1912.5,540.1 L1908.7,541.1 L1904.9,542.1 L1901.0,543.0 L1897.1,543.8 L1893.2,544.5 L1889.2,545.1 L1885.3,545.7 L1881.3,546.3 L1877.3,546.8 L1873.3,547.2 L1869.3,547.6 L1865.3,548.0 L1861.3,548.3 L1857.2,548.6 L1853.2,548.9 L1849.2,549.2 L1845.1,549.4 L1841.0,549.7 L1837.0,549.9 L1832.9,550.2 L1828.8,550.5 L1824.8,550.8 L1820.7,551.1 L1816.7,551.4 L1812.6,551.7 L1808.6,552.1 L1804.5,552.6 L1800.5,553.1 L1796.5,553.6 L1792.5,554.2 L1788.5,554.8 L1784.5,555.5 L1780.6,556.3 L1776.6,557.1 L1772.6,558.0 L1768.7,558.9 L1764.8,559.9 L1760.9,560.9 L1757.0,561.9 L1753.0,563.0 L1749.2,564.0 L1745.3,565.2 L1741.4,566.3 L1737.5,567.4 L1733.6,568.6 L1729.7,569.7 L1725.9,570.9 L1722.0,572.0 L1718.1,573.2 L1714.2,574.3 L1710.4,575.5 L1706.5,576.6 L1702.6,577.6 L1698.7,578.7 L1694.8,579.7 L1690.9,580.7 L1687.0,581.7 L1683.1,582.6 L1679.2,583.4 L1675.3,584.2 L1671.4,585.0 L1667.5,585.7 L1663.5,586.3 L1659.6,586.9 L1655.6,587.4 L1651.6,587.9 L1647.6,588.3 L1643.7,588.7 L1639.7,589.0 L1635.7,589.3 L1631.7,589.5 L1627.7,589.7 L1623.6,589.8 L1619.6,590.0 L1615.6,590.0 L1611.6,590.1 L1607.5,590.1 L1603.5,590.1 L1599.4,590.1 L1595.4,590.1 L1591.4,590.0 L1587.3,589.9 L1583.2,589.8 L1579.2,589.7 L1575.1,589.6 L1571.1,589.4 L1567.0,589.3 L1563.0,589.1 L1558.9,589.0 L1554.9,588.8 L1550.8,588.7 L1546.7,588.5 L1542.7,588.4 L1538.6,588.3 L1534.6,588.2 L1530.5,588.1 L1526.5,588.0 L1522.5,587.9 L1518.4,587.8 L1514.4,587.8 L1510.4,587.8 L1506.3,587.8 L1502.3,587.9 L1498.3,587.9 L1494.3,588.1 L1490.3,588.2" fill="none" stroke="#ff00ff" stroke-width="6.5" stroke-linejoin="bevel" stroke-linecap="butt"/>
<path d="M1490.3,597.0 L1486.3,597.3 L1482.3,597.6 L1478.3,598.0 L1474.3,598.3 L1470.3,598.6 L1466.3,598.9 L1462.3,599.1 L1458.3,599.4 L1454.2,599.7 L1450.2,599.9 L1446.2,600.2 L1442.2,600.4 L1438.2,600.7 L1434.2,600.9 L1430.2,601.1 L1426.2,601.4 L1422.2,601.6 L1418.2,601.8 L1414.2,602.0 L1410.2,602.2 L1406.2,602.4 L1402.2,602.6 L1398.2,602.7 L1394.1,602.9 L1390.1,603.1 L1386.1,603.3 L1382.1,603.4 L1378.1,603.6 L1374.1,603.7 L1370.1,603.9 L1366.1,604.0 L1362.1,604.1 L1358.1,604.3 L1354.1,604.4 L1350.1,604.5 L1346.0,604.6 L1342.0,604.7 L1338.0,604.8 L1334.0,604.9 L1330.0,605.0 L1326.0,605.1 L1322.0,605.2 L1318.0,605.3 L1314.0,605.4 L1310.0,605.5 L1306.0,605.5 L1301.9,605.6 L1297.9,605.7 L1293.9,605.7 L1289.9,605.8 L1285.9,605.9 L1281.9,605.9 L1277.9,606.0 L1273.9,606.0 L1269.9,606.1 L1265.9,606.1 L1261.8,606.2 L1257.8,606.2 L1253.8,606.3 L1249.8,606.3 L1245.8,606.3 L1241.8,606.4 L1237.8,606.4 L1233.8,606.4 L1229.8,606.5 L1225.7,606.5 L1221.7,606.5 L1217.7,606.5 L1213.7,606.6 L1209.7,606.6 L1205.7,606.6 L1201.7,606.6 L1197.7,606.7 L1193.6,606.7 L1189.6,606.7 L1185.6,606.7 L1181.6,606.7 L1177.6,606.8 L1173.6,606.8 L1169.6,606.8 L1165.6,606.8 L1161.6,606.8 L1157.5,606.8 L1153.5,606.9 L1149.5,606.9 L1145.5,606.9 L1141.5,606.9 L1137.5,607.0 L1133.5,607.0 L1129.4,607.0 L1125.4,607.0 L1121.4,607.0 L1117.4,607.1 L1113.4,607.1 L1109.4,607.1 L1105.4,607.2 L1101.4,607.2 L1097.3,607.2 L1093.3,607.3 L1089.3,607.3 L1085.3,607.3 L1081.3,607.4 L1077.3,607.4 L1073.3,607.5 L1069.2,607.5 L1065.2,607.6 L1061.2,607.6 L1057.2,607.7 L1053.2,607.8 L1049.2,607.8 L1045.1,607.9 L1041.1,608.0 L1037.1,608.0 L1033.1,608.1 L1029.1,608.2 L1025.1,608.3 L1021.1,608.4 L1017.0,608.4 L1013.0,608.5 L1009.0,608.6 L1005.0,608.7 L1001.0,608.8 L997.0,609.0 L992.9,609.1 L988.9,609.2 L984.9,609.3 L980.9,609.4 L976.9,609.6 L972.9,609.7 L968.9,609.8 L964.8,610.0 L960.8,610.1 L956.8,610.3 L952.8,610.5 L948.8,610.6 L944.8,610.8 L940.7,611.0 L936.7,611.2 L932.7,611.4 L928.7,611.6 L924.7,611.8 L920.7,612.0 L916.7,612.2 L912.6,612.5 L908.6,612.7 L904.6,613.0 L900.6,613.2 L896.6,613.5 L892.6,613.8 L888.6,614.0 L884.6,614.3 L880.6,614.7 L876.6,615.0 L872.6,615.3 L868.6,615.7 L864.6,616.0 L860.6,616.4 L856.6,616.8 L852.6,617.2 L848.6,617.6 L844.7,618.0 L840.7,618.4 L836.7,618.9 L832.7,619.3 L828.7,619.8 L824.8,620.3 L820.8,620.8 L816.8,621.3 L812.9,621.8 L808.9,622.4 L805.0,623.0 L801.0,623.6 L797.1,624.2 L793.1,624.8 L789.2,625.4 L785.2,626.1 L781.3,626.7 L777.4,627.4 L773.4,628.1 L769.5,628.9 L765.6,629.6 L761.7,630.4 L757.8,631.2 L753.8,632.0 L749.9,632.8 L746.0,633.6 L742.1,634.5 L738.3,635.4 L734.4,636.3 L730.5,637.2 L726.6,638.2 L722.7,639.2 L718.9,640.2 L715.0,641.2 L711.2,642.2 L707.3,643.3 L703.5,644.4 L699.6,645.5 L695.8,646.6 L692.0,647.8 L688.1,649.0 L684.3,650.2 L680.5,651.4 L676.7,652.7 L672.9,654.0 L669.1,655.3 L665.3,656.7 L661.5,658.0 L657.8,659.4 L654.0,660.9 L650.2,662.3 L646.5,663.8 L642.7,665.3 L639.0,666.8 L635.2,668.4 L631.5,670.0 L627.8,671.6 L624.1,673.3 L620.4,674.9 L616.7,676.6 L613.0,678.3 L609.3,680.1 L605.6,681.8 L601.9,683.5 L598.3,685.3 L594.6,687.1 L591.0,688.9 L587.4,690.7 L583.7,692.5 L580.1,694.3 L576.5,696.1 L572.9,697.9 L569.3,699.8 L565.8,701.6 L562.2,703.4 L558.7,705.3 L555.2,707.2 L551.7,709.1 L548.3,711.1 L544.9,713.2 L541.5,715.3 L538.2,717.5 L534.9,719.7 L531.7,722.0 L528.5,724.3 L525.4,726.7 L522.3,729.2 L519.3,731.7 L516.3,734.3 L513.3,736.9 L510.4,739.6 L507.5,742.3 L504.7,745.1 L501.9,748.0 L499.2,750.9 L496.5,753.8 L493.9,756.8 L491.3,759.9 L488.7,763.0 L486.3,766.1 L483.8,769.3 L481.4,772.6 L479.1,775.8 L476.8,779.2 L474.5,782.5 L472.3,785.9 L470.1,789.3 L467.9,792.8 L465.8,796.3 L463.7,799.7 L461.6,803.2 L459.5,806.7 L457.5,810.3 L455.5,813.8 L453.5,817.3 L451.5,820.8 L449.6,824.4 L447.6,827.9 L445.7,831.5 L443.8,835.0 L441.9,838.6 L440.1,842.1 L438.2,845.7 L436.4,849.2 L434.6,852.8 L432.8,856.4 L431.0,860.0 L429.2,863.5 L427.5,867.1 L425.7,870.7 L424.0,874.3 L422.3,877.9 L420.6,881.5 L418.9,885.1 L417.2,888.8 L415.5,892.4 L413.9,896.0 L412.2,899.6 L410.6,903.3 L408.9,906.9 L407.3,910.5 L405.7,914.2 L404.1,917.9 L402.5,921.5 L400.9,925.2 L399.3,928.9 L397.7,932.5 L396.2,936.2 L394.6,939.9 L393.0,943.6 L391.5,947.3 L389.9,951.0 L388.4,954.7 L386.9,958.4 L385.4,962.2 L383.9,965.9 L382.4,969.6 L380.9,973.4 L379.5,977.1 L378.0,980.8 L376.6,984.6 L375.2,988.4 L373.8,992.1 L372.4,995.9 L371.1,999.7 L369.7,1003.5 L368.4,1007.2 L367.1,1011.0 L365.9,1014.8 L364.6,1018.6 L363.4,1022.4 L362.2,1026.3 L361.0,1030.1 L359.9,1033.9 L360.2,1029.9 L360.6,1025.9 L360.9,1022.0 L361.3,1018.0 L361.7,1014.0 L362.0,1010.0 L362.4,1006.0 L362.8,1002.0 L363.1,998.0 L363.5,994.1 L363.9,990.1 L364.3,986.1 L364.7,982.1 L365.1,978.1 L365.5,974.1 L365.9,970.1 L366.3,966.1 L366.7,962.1 L367.1,958.1 L367.6,954.1 L368.0,950.1 L368.5,946.1 L369.0,942.1 L369.4,938.1 L369.9,934.1 L370.4,930.1 L370.9,926.2 L371.4,922.2 L371.9,918.2 L372.5,914.2 L373.0,910.2 L373.6,906.2 L374.2,902.3 L374.7,898.3 L375.3,894.3 L376.0,890.4 L376.6,886.4 L377.2,882.4 L377.9,878.5 L378.5,874.5 L379.2,870.6 L379.9,866.6 L380.6,862.7 L381.3,858.8 L382.1,854.8 L382.8,850.9 L383.6,847.0 L384.4,843.0 L385.2,839.1 L386.0,835.2 L386.9,831.3 L387.7,827.4 L388.6,823.5 L389.5,819.6 L390.4,815.7 L391.4,811.9 L392.3,808.0 L393.3,804.1 L394.3,800.2 L395.3,796.4 L396.3,792.5 L397.3,788.7 L398.4,784.8 L399.5,781.0 L400.6,777.1 L401.7,773.3 L402.9,769.5 L404.0,765.6 L405.2,761.8 L406.4,758.0 L407.7,754.2 L408.9,750.4 L410.2,746.6 L411.5,742.8 L412.8,739.0 L414.1,735.2 L415.5,731.5 L416.9,727.7 L418.3,723.9 L419.7,720.2 L421.1,716.4 L422.6,712.6 L424.1,708.9 L425.6,705.2 L427.2,701.4 L428.7,697.7 L430.3,694.0 L432.0,690.2 L433.6,686.5 L435.3,682.9 L437.0,679.2 L438.7,675.5 L440.5,671.9 L442.3,668.3 L444.2,664.7 L446.0,661.1 L448.0,657.6 L449.9,654.1 L451.9,650.6 L454.0,647.1 L456.1,643.7 L458.2,640.4 L460.4,637.0 L462.6,633.7 L464.9,630.5 L467.2,627.2 L469.6,624.1 L472.0,621.0 L474.5,617.9 L477.0,614.9 L479.6,611.9 L482.3,609.0 L485.0,606.1 L487.8,603.3 L490.6,600.6 L493.5,597.9 L496.5,595.3 L499.5,592.7 L502.6,590.2 L505.8,587.8 L509.0,585.5 L512.3,583.2 L515.6,581.0 L519.0,578.8 L522.4,576.7 L525.9,574.6 L529.4,572.6 L533.0,570.7 L536.6,568.8 L540.2,566.9 L543.9,565.1 L547.6,563.3 L551.3,561.6 L555.0,559.9 L558.7,558.3 L562.5,556.7 L566.2,555.1 L570.0,553.6 L573.8,552.1 L577.5,550.6 L581.3,549.1 L585.1,547.7 L588.8,546.3 L592.6,544.9 L596.3,543.6 L600.1,542.3 L603.8,541.0 L607.5,539.7 L611.3,538.5 L615.0,537.2 L618.8,536.0 L622.6,534.9 L626.3,533.7 L630.1,532.6 L633.9,531.5 L637.7,530.4 L641.6,529.4 L645.4,528.4 L649.3,527.4 L653.2,526.4 L657.1,525.4 L661.0,524.4 L664.9,523.4 L668.8,522.4 L672.7,521.4 L676.6,520.3 L680.5,519.2 L684.4,518.1 L688.2,516.9 L692.0,515.6 L695.8,514.2 L699.6,512.8 L703.3,511.3 L707.0,509.7 L710.7,508.0 L714.3,506.3 L717.9,504.5 L721.5,502.7 L725.1,500.9 L728.7,499.1 L732.3,497.2 L735.9,495.4 L739.5,493.6 L743.1,491.8 L746.7,490.1 L750.3,488.3 L754.0,486.7 L757.6,485.0 L761.3,483.4 L764.9,481.8 L768.6,480.2 L772.3,478.6 L776.0,477.1 L779.7,475.6 L783.4,474.1 L787.1,472.7 L790.8,471.2 L794.5,469.8 L798.3,468.4 L802.0,467.0 L805.8,465.7 L809.5,464.3 L813.3,463.0 L817.0,461.7 L820.8,460.4 L824.6,459.1 L828.4,457.8 L832.2,456.5 L836.0,455.3 L839.8,454.0 L843.6,452.8 L847.4,451.5 L851.2,450.3 L855.0,449.1 L858.9,447.9 L862.7,446.7 L866.5,445.4 L870.4,444.2 L874.2,443.0 L878.1,441.8 L881.9,440.6 L885.8,439.4 L889.6,438.2 L893.5,437.0 L897.4,435.8 L901.2,434.5 L905.1,433.3 L908.9,432.1 L912.8,430.8 L916.6,429.5 L920.5,428.2 L924.3,426.8 L928.1,425.4 L931.8,424.0 L935.6,422.5 L939.3,420.9 L942.9,419.4 L946.6,417.7 L950.2,416.0 L953.7,414.2 L957.3,412.3 L960.7,410.4 L964.1,408.3 L967.5,406.2 L970.8,404.0 L974.0,401.7 L977.2,399.4 L980.4,396.9 L983.6,394.5 L986.7,392.0 L989.8,389.4 L992.9,386.9 L996.0,384.4 L999.2,381.9 L1002.3,379.4 L1005.5,377.0 L1008.8,374.7 L1012.1,372.4 L1015.4,370.2 L1018.9,368.1 L1022.4,366.1 L1026.0,364.3 L1029.6,362.6 L1033.4,360.9 L1037.1,359.5 L1041.0,358.1 L1044.9,356.9 L1048.8,355.8 L1052.8,354.8 L1056.8,354.0 L1060.8,353.3 L1064.8,352.7 L1068.9,352.2 L1073.0,351.9 L1077.0,351.8 L1081.1,351.7 L1085.1,351.8 L1089.2,352.1 L1093.2,352.4 L1097.1,353.0 L1101.1,353.6 L1105.0,354.4 L1108.8,355.4 L1112.6,356.5 L1116.3,357.7 L1120.0,359.1 L1123.6,360.6 L1127.1,362.3 L1130.6,364.2 L1133.9,366.1 L1137.3,368.2 L1140.5,370.4 L1143.7,372.7 L1146.8,375.2 L1149.8,377.7 L1152.8,380.3 L1155.7,383.1 L1158.6,385.9 L1161.4,388.7 L1164.2,391.7 L1166.9,394.7 L1169.5,397.8 L1172.2,400.9 L1174.7,404.1 L1177.2,407.3 L1179.7,410.5 L1182.1,413.8 L1184.5,417.1 L1186.9,420.4 L1189.2,423.7 L1191.5,427.1 L1193.8,430.4 L1196.1,433.7 L1198.3,437.1 L1200.6,440.4 L1202.8,443.8 L1205.0,447.1 L1207.3,450.4 L1209.6,453.7 L1211.8,457.0 L1214.1,460.3 L1216.5,463.5 L1218.8,466.7 L1221.2,469.9 L1223.6,473.1 L1226.1,476.2 L1228.6,479.2 L1231.1,482.2 L1233.8,485.2 L1236.4,488.1 L1239.2,490.9 L1242.0,493.7 L1244.9,496.4 L1247.8,499.1 L1250.9,501.7 L1254.0,504.2 L1257.2,506.6 L1260.6,508.9 L1264.0,511.0 L1267.5,513.0 L1271.0,514.7 L1274.7,516.1 L1278.5,517.3 L1282.3,518.2 L1286.2,518.9 L1290.1,519.4 L1294.1,519.8 L1298.1,520.0 L1302.2,520.2 L1306.2,520.3 L1310.3,520.3 L1314.3,520.3 L1318.3,520.3 L1322.4,520.3 L1326.4,520.2 L1330.4,520.1 L1334.4,520.0 L1338.5,519.9 L1342.5,519.7 L1346.5,519.5 L1350.5,519.3 L1354.5,519.1 L1358.5,518.9 L1362.5,518.6 L1366.5,518.3 L1370.5,518.0 L1374.5,517.7 L1378.5,517.4 L1382.5,517.0 L1386.5,516.7 L1390.4,516.3 L1394.4,515.9 L1398.4,515.6 L1402.4,515.2 L1406.4,514.8 L1410.4,514.3 L1414.4,513.9 L1418.4,513.5 L1422.3,513.1 L1426.3,512.6 L1430.3,512.2 L1434.3,511.8 L1438.3,511.3 L1442.3,510.9 L1446.3,510.5 L1450.3,510.0 L1454.3,509.6 L1458.3,509.2 L1462.3,508.7 L1466.3,508.3 L1470.3,507.9 L1474.3,507.5 L1478.3,507.0 L1482.3,506.6 L1486.3,506.2 L1490.3,505.7 L1494.3,505.3 L1498.3,504.9 L1502.3,504.4 L1506.3,504.0 L1510.3,503.6 L1514.2,503.1 L1518.2,502.7 L1522.2,502.2 L1526.2,501.8 L1530.2,501.3 L1534.2,500.8 L1538.2,500.3 L1542.1,499.9 L1546.1,499.4 L1550.1,498.9 L1554.1,498.4 L1558.0,497.8 L1562.0,497.3 L1565.9,496.8 L1569.9,496.2 L1573.8,495.7 L1577.8,495.1 L1581.7,494.6 L1585.7,494.0 L1589.6,493.4 L1593.5,492.8 L1597.5,492.2 L1601.4,491.5 L1605.3,490.9 L1609.3,490.3 L1613.2,489.6 L1617.1,489.0 L1621.1,488.3 L1625.0,487.6 L1628.9,486.9 L1632.9,486.2 L1636.8,485.5 L1640.8,484.8 L1644.7,484.0 L1648.6,483.3 L1652.6,482.5 L1656.5,481.8 L1660.5,481.0 L1664.5,480.2 L1668.4,479.4 L1672.4,478.6 L1676.4,477.8 L1680.3,477.0 L1684.3,476.1 L1688.3,475.3 L1692.3,474.5 L1696.3,473.7 L1700.3,472.9 L1704.2,472.1 L1708.2,471.3 L1712.2,470.6 L1716.2,469.9 L1720.2,469.2 L1724.2,468.6 L1728.2,468.0 L1732.1,467.5 L1736.1,467.0 L1740.1,466.6 L1744.1,466.2 L1748.0,465.9 L1752.0,465.7 L1755.9,465.6 L1759.9,465.5 L1763.8,465.5 L1767.7,465.6 L1771.6,465.8 L1775.5,466.1 L1779.4,466.5 L1783.3,466.9 L1787.2,467.5 L1791.0,468.2 L1794.9,469.0 L1798.7,469.9 L1802.6,470.8 L1806.4,471.7 L1810.3,472.7 L1814.2,473.7 L1818.0,474.7 L1821.9,475.6 L1825.8,476.5 L1829.8,477.4 L1833.7,478.1 L1837.7,478.8 L1841.7,479.4 L1845.8,479.8 L1849.8,480.2 L1853.9,480.4 L1858.1,480.5 L1862.2,480.5 L1866.3,480.3 L1870.4,480.1 L1874.6,479.7 L1878.7,479.3 L1882.7,478.7 L1886.8,478.0 L1890.8,477.2 L1894.8,476.3 L1898.7,475.3 L1902.6,474.2 L1906.5,473.0 L1910.3,471.6 L1914.0,470.2 L1917.7,468.7 L1921.3,467.1 L1924.9,465.4 L1928.4,463.6 L1931.9,461.7 L1935.3,459.8 L1938.6,457.7 L1941.9,455.6 L1945.2,453.3 L1948.4,451.0 L1951.5,448.7 L1954.6,446.2 L1957.6,443.7 L1960.5,441.0 L1963.4,438.4 L1966.3,435.6 L1969.0,432.8 L1971.7,429.9 L1974.4,426.9 L1977.0,423.9 L1979.5,420.8 L1981.9,417.7 L1984.3,414.5 L1986.7,411.2 L1988.9,407.9 L1991.1,404.5 L1993.3,401.1 L1995.3,397.6 L1997.3,394.1 L1999.3,390.5 L2001.1,386.9 L2002.9,383.2 L2004.7,379.5 L2006.3,375.8 L2007.9,372.0 L2007.1,375.7 L2006.3,379.5 L2005.5,383.3 L2004.8,387.1 L2004.0,391.0 L2003.3,395.0 L2002.5,398.9 L2001.8,402.9 L2001.0,406.9 L2000.3,410.9 L1999.5,415.0 L1998.7,419.0 L1997.8,423.1 L1997.0,427.1 L1996.0,431.1 L1995.1,435.2 L1994.1,439.2 L1993.0,443.2 L1991.9,447.2 L1990.8,451.1 L1989.5,455.0 L1988.2,458.9 L1986.8,462.8 L1985.4,466.6 L1983.8,470.3 L1982.2,474.0 L1980.4,477.6 L1978.6,481.1 L1976.7,484.6 L1974.7,488.0 L1972.5,491.3 L1970.3,494.5 L1967.9,497.6 L1965.4,500.6 L1962.8,503.5 L1960.1,506.3 L1957.2,509.0 L1954.3,511.6 L1951.3,514.0 L1948.2,516.4 L1945.0,518.7 L1941.7,520.9 L1938.3,523.0 L1934.9,525.0 L1931.4,526.9 L1927.9,528.7 L1924.2,530.5 L1920.6,532.1 L1916.8,533.6 L1913.1,535.1 L1909.2,536.4 L1905.4,537.7 L1901.5,538.8 L1897.6,539.9 L1893.7,540.9 L1889.7,541.8 L1885.7,542.7 L1881.7,543.4 L1877.7,544.2 L1873.7,544.9 L1869.7,545.5 L1865.6,546.1 L1861.6,546.7 L1857.5,547.2 L1853.5,547.7 L1849.4,548.3 L1845.4,548.8 L1841.3,549.3 L1837.3,549.9 L1833.3,550.4 L1829.3,551.0 L1825.3,551.6 L1821.3,552.3 L1817.3,553.0 L1813.4,553.8 L1809.4,554.5 L1805.5,555.4 L1801.6,556.2 L1797.7,557.2 L1793.8,558.1 L1789.9,559.1 L1786.1,560.1 L1782.2,561.1 L1778.4,562.2 L1774.5,563.3 L1770.7,564.4 L1766.9,565.6 L1763.1,566.8 L1759.3,568.0 L1755.5,569.2 L1751.6,570.5 L1747.8,571.7 L1744.0,573.0 L1740.2,574.3 L1736.4,575.6 L1732.6,577.0 L1728.8,578.3 L1725.0,579.7 L1721.2,581.0 L1717.3,582.4 L1713.5,583.8 L1709.7,585.1 L1705.8,586.4 L1702.0,587.7 L1698.1,588.9 L1694.3,590.1 L1690.4,591.3 L1686.5,592.4 L1682.6,593.4 L1678.7,594.4 L1674.8,595.2 L1670.9,596.0 L1667.0,596.8 L1663.1,597.4 L1659.1,597.9 L1655.2,598.4 L1651.2,598.8 L1647.3,599.1 L1643.3,599.4 L1639.3,599.5 L1635.3,599.6 L1631.3,599.7 L1627.3,599.7 L1623.3,599.6 L1619.3,599.5 L1615.3,599.4 L1611.3,599.2 L1607.2,599.0 L1603.2,598.7 L1599.2,598.4 L1595.1,598.1 L1591.1,597.8 L1587.1,597.4 L1583.0,597.0 L1579.0,596.6 L1574.9,596.2 L1570.9,595.8 L1566.8,595.4 L1562.8,595.0 L1558.7,594.6 L1554.7,594.2 L1550.6,593.8 L1546.6,593.5 L1542.5,593.1 L1538.5,592.8 L1534.5,592.5 L1530.4,592.2 L1526.4,592.0 L1522.4,591.8 L1518.3,591.6 L1514.3,591.5 L1510.3,591.5 L1506.3,591.5 L1502.3,591.5 L1498.3,591.6 L1494.3,591.8 L1490.3,592.0" fill="none" stroke="#00ff00" stroke-width="6.5" stroke-linejoin="bevel" stroke-linecap="butt"/>
<rect x="1250" y="681.6" width="241" height="5" fill="#000"/>
<polygon points="1226,684.1 1272,661 1258,684.1 1272,707.2" fill="#000"/>
<line x1="1665.5" y1="842.0" x2="1812.5" y2="842.0" stroke="#000000" stroke-width="6" stroke-linecap="round"/>
<text transform="translate(1830.0,864.5) scale(0.99,1)" class="lg">scan 1</text>
<line x1="1665.5" y1="922.9" x2="1812.5" y2="922.9" stroke="#ff0000" stroke-width="6" stroke-linecap="round"/>
<text transform="translate(1830.0,945.4) scale(0.99,1)" class="lg">scan 2</text>
<line x1="1665.5" y1="1003.2" x2="1812.5" y2="1003.2" stroke="#0000ff" stroke-width="6" stroke-linecap="round"/>
<text transform="translate(1830.0,1025.7) scale(0.99,1)" class="lg">scan 3</text>
<line x1="1665.5" y1="1083.6" x2="1812.5" y2="1083.6" stroke="#00ff00" stroke-width="6" stroke-linecap="round"/>
<text transform="translate(1830.0,1106.1) scale(0.99,1)" class="lg">scan 4</text>
<line x1="1665.5" y1="1163.9" x2="1812.5" y2="1163.9" stroke="#ff00ff" stroke-width="6" stroke-linecap="round"/>
<text transform="translate(1830.0,1186.4) scale(0.99,1)" class="lg">scan 5</text>
</svg>
</body></html>
